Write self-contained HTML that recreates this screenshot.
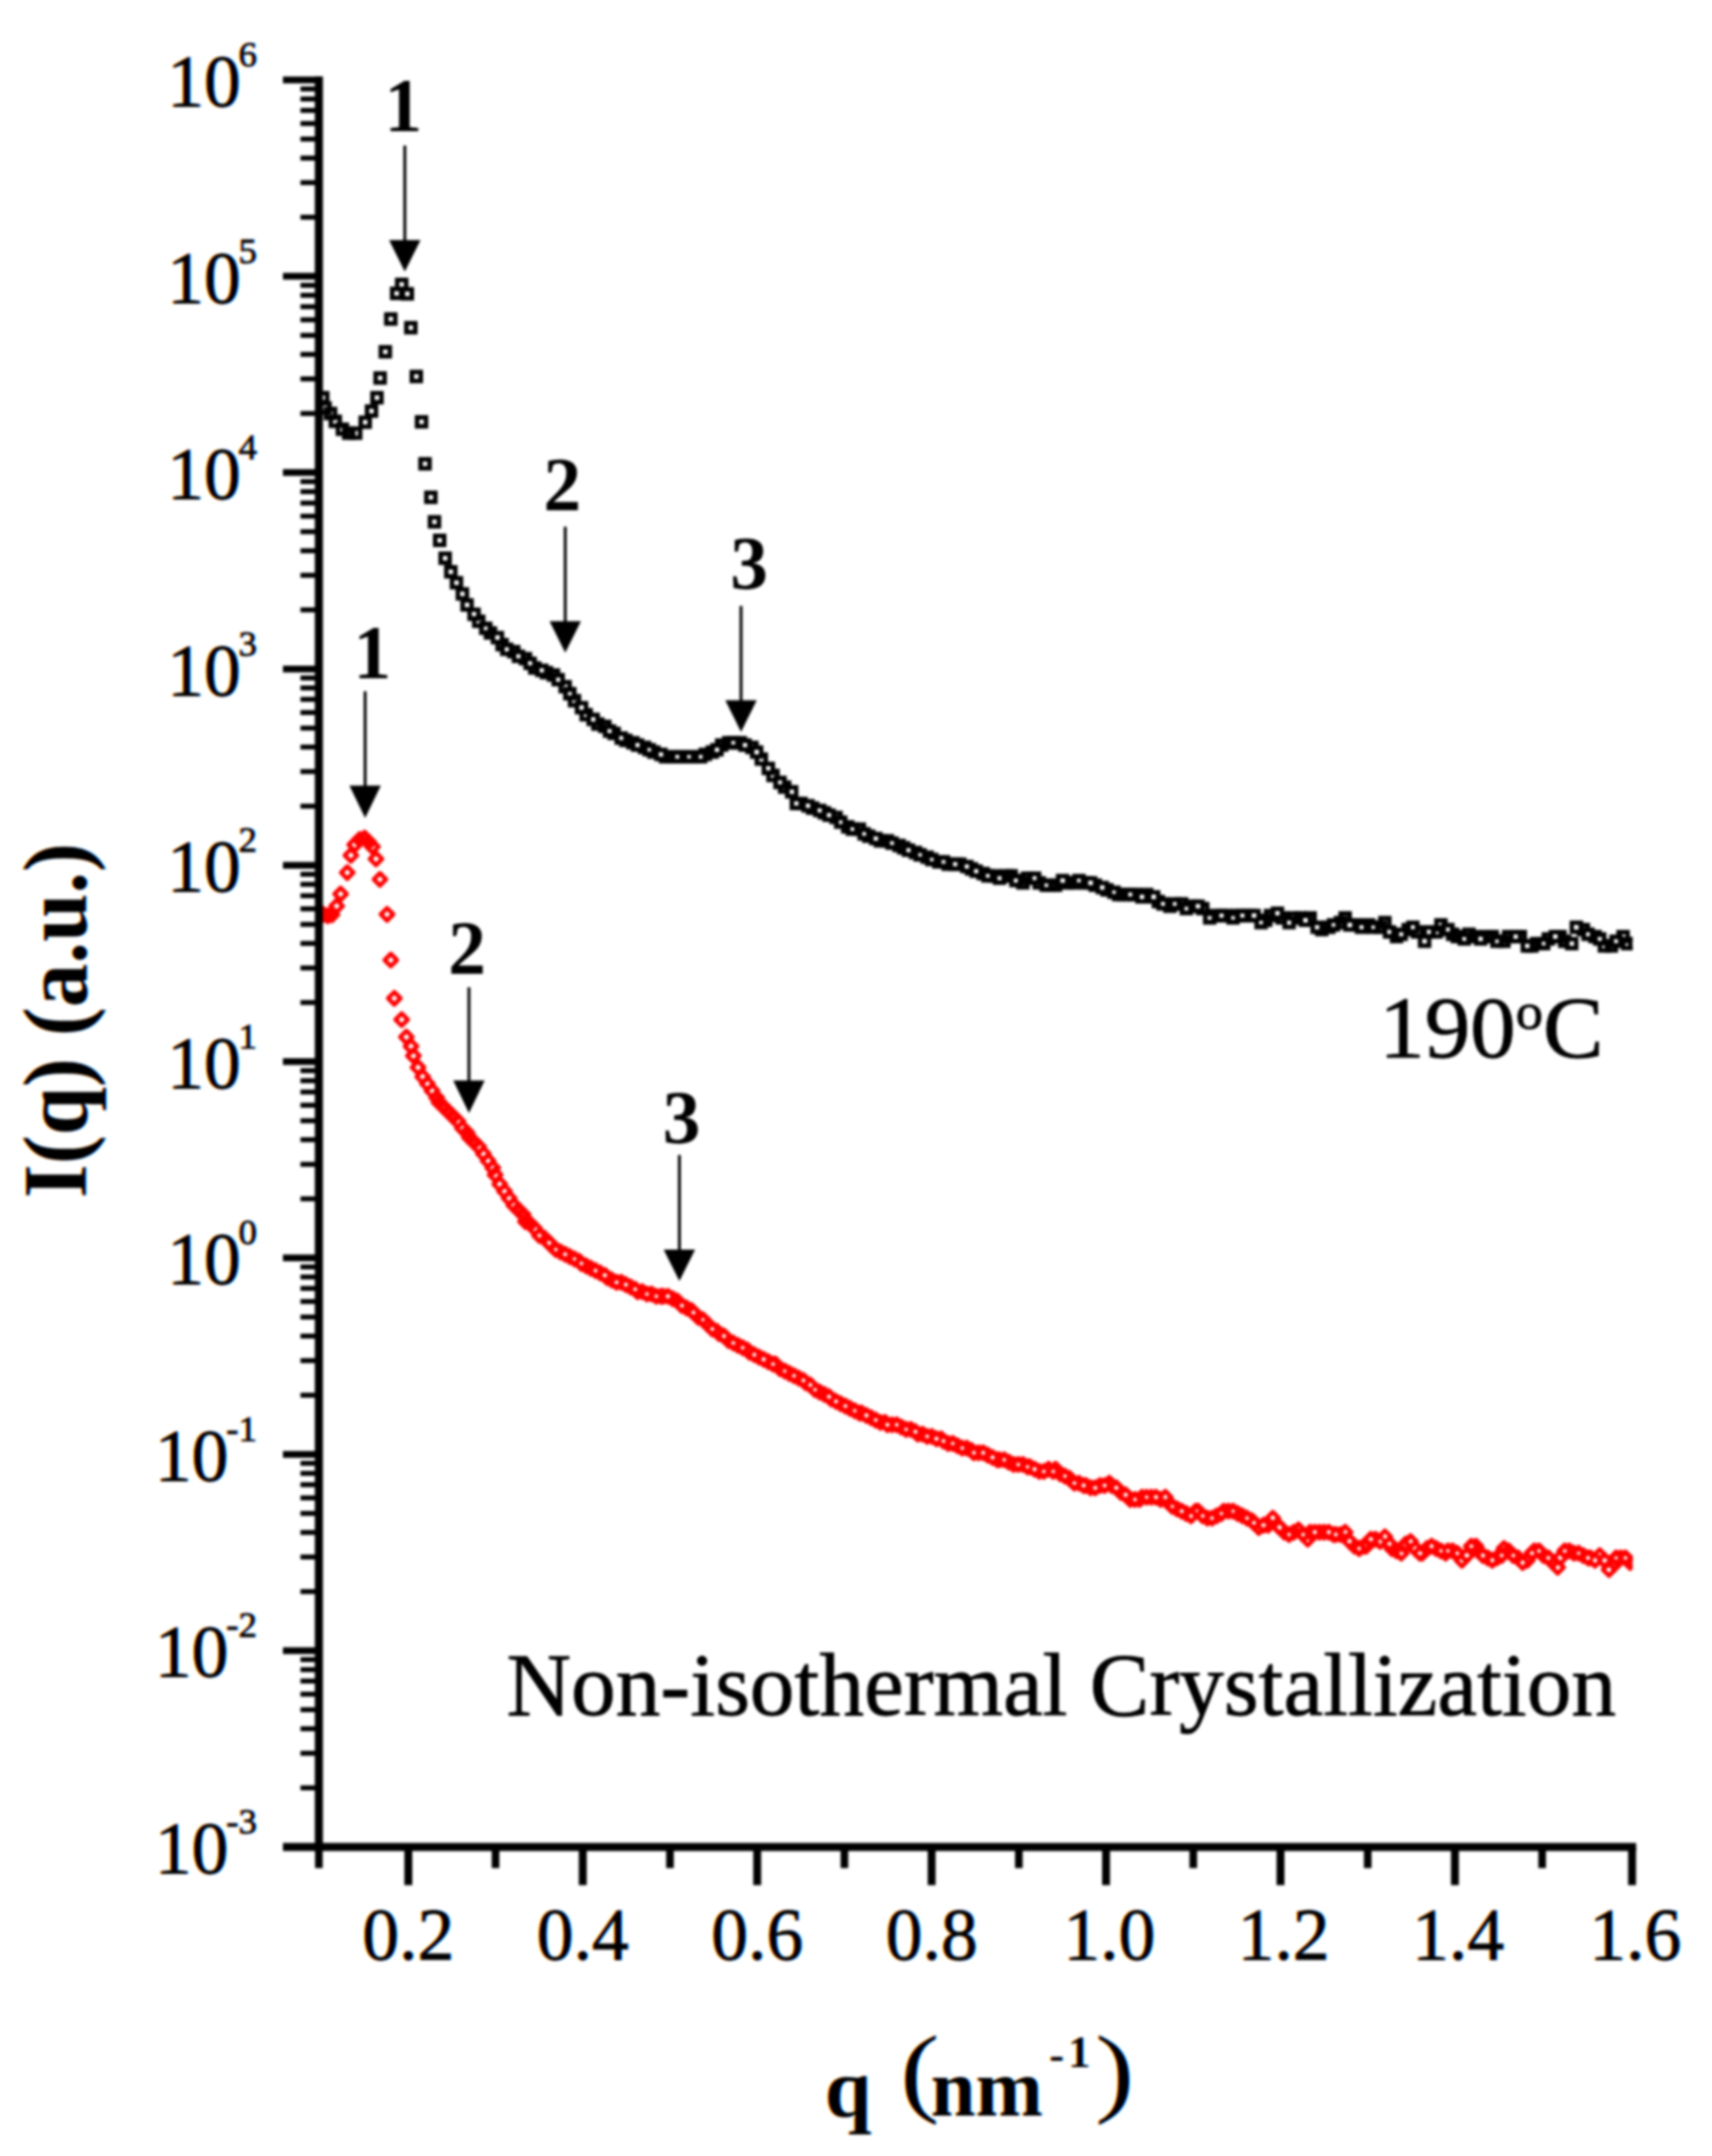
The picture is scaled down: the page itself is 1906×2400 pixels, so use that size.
<!DOCTYPE html>
<html lang="en"><head><meta charset="utf-8"><title>I(q) vs q</title>
<style>html,body{margin:0;padding:0;background:#fff;}body{width:1906px;height:2400px;overflow:hidden;}svg{display:block;filter:blur(1.8px);}</style>
</head><body>
<svg width="1906" height="2400" viewBox="0 0 1906 2400">
<rect x="0" y="0" width="1906" height="2400" fill="#fff"/>
<defs><filter id="lcd" x="-5%" y="-5%" width="110%" height="110%" color-interpolation-filters="sRGB"><feOffset in="SourceGraphic" dx="1.3" result="sR"/><feColorMatrix in="sR" type="matrix" values="0 0 0 -1 1  0 0 0 0 0  0 0 0 0 0  0 0 0 0 1" result="cR"/><feColorMatrix in="SourceGraphic" type="matrix" values="0 0 0 0 0  0 0 0 -1 1  0 0 0 0 0  0 0 0 0 1" result="cG"/><feOffset in="SourceGraphic" dx="-1.3" result="sB"/><feColorMatrix in="sB" type="matrix" values="0 0 0 0 0  0 0 0 0 0  0 0 0 -1 1  0 0 0 0 1" result="cB"/><feComposite in="cR" in2="cG" operator="arithmetic" k1="0" k2="1" k3="1" k4="0" result="RG"/><feComposite in="RG" in2="cB" operator="arithmetic" k1="0" k2="1" k3="1" k4="0"/></filter></defs>
<clipPath id="pc"><rect x="355.0" y="0" width="1462.5" height="2400"/></clipPath>
<g clip-path="url(#pc)">
<g fill="none" stroke="#000" stroke-width="5.0">
<rect x="354.3" y="437.7" width="10.0" height="10.0"/>
<rect x="356.9" y="449.1" width="10.0" height="10.0"/>
<rect x="363.0" y="455.3" width="10.0" height="10.0"/>
<rect x="368.3" y="464.0" width="10.0" height="10.0"/>
<rect x="376.2" y="472.8" width="10.0" height="10.0"/>
<rect x="383.2" y="477.2" width="10.0" height="10.0"/>
<rect x="391.0" y="477.2" width="10.0" height="10.0"/>
<rect x="401.6" y="465.0" width="10.0" height="10.0"/>
<rect x="408.6" y="452.6" width="10.0" height="10.0"/>
<rect x="414.7" y="437.7" width="10.0" height="10.0"/>
<rect x="418.2" y="415.8" width="10.0" height="10.0"/>
<rect x="424.0" y="386.6" width="10.0" height="10.0"/>
<rect x="430.1" y="350.1" width="10.0" height="10.0"/>
<rect x="436.6" y="321.6" width="10.0" height="10.0"/>
<rect x="442.2" y="311.6" width="10.0" height="10.0"/>
<rect x="448.5" y="322.1" width="10.0" height="10.0"/>
<rect x="452.4" y="359.8" width="10.0" height="10.0"/>
<rect x="458.5" y="414.1" width="10.0" height="10.0"/>
<rect x="464.3" y="464.6" width="10.0" height="10.0"/>
<rect x="468.2" y="511.3" width="10.0" height="10.0"/>
<rect x="474.7" y="548.6" width="10.0" height="10.0"/>
<rect x="478.7" y="575.9" width="10.0" height="10.0"/>
<rect x="484.5" y="596.5" width="10.0" height="10.0"/>
<rect x="490.6" y="616.4" width="10.0" height="10.0"/>
<rect x="496.9" y="631.5" width="10.0" height="10.0"/>
<rect x="503.2" y="643.7" width="10.0" height="10.0"/>
<rect x="509.8" y="656.1" width="10.0" height="10.0"/>
<rect x="515.0" y="668.4" width="10.0" height="10.0"/>
<rect x="522.8" y="678.8" width="10.0" height="10.0"/>
<rect x="528.0" y="686.6" width="10.0" height="10.0"/>
<rect x="535.8" y="694.4" width="10.0" height="10.0"/>
<rect x="541.0" y="699.6" width="10.0" height="10.0"/>
<rect x="548.8" y="704.8" width="10.0" height="10.0"/>
<rect x="554.0" y="712.6" width="10.0" height="10.0"/>
<rect x="559.2" y="717.8" width="10.0" height="10.0"/>
<rect x="567.0" y="720.4" width="10.0" height="10.0"/>
<rect x="572.2" y="725.6" width="10.0" height="10.0"/>
<rect x="580.0" y="728.2" width="10.0" height="10.0"/>
<rect x="585.2" y="733.4" width="10.0" height="10.0"/>
<rect x="590.4" y="738.6" width="10.0" height="10.0"/>
<rect x="598.2" y="741.2" width="10.0" height="10.0"/>
<rect x="603.4" y="743.8" width="10.0" height="10.0"/>
<rect x="611.2" y="746.4" width="10.0" height="10.0"/>
<rect x="616.4" y="751.6" width="10.0" height="10.0"/>
<rect x="624.2" y="759.4" width="10.0" height="10.0"/>
<rect x="629.4" y="767.2" width="10.0" height="10.0"/>
<rect x="634.6" y="775.0" width="10.0" height="10.0"/>
<rect x="642.4" y="782.8" width="10.0" height="10.0"/>
<rect x="647.6" y="790.6" width="10.0" height="10.0"/>
<rect x="655.4" y="795.8" width="10.0" height="10.0"/>
<rect x="660.6" y="801.0" width="10.0" height="10.0"/>
<rect x="668.4" y="803.6" width="10.0" height="10.0"/>
<rect x="673.6" y="808.8" width="10.0" height="10.0"/>
<rect x="678.8" y="811.4" width="10.0" height="10.0"/>
<rect x="686.6" y="816.6" width="10.0" height="10.0"/>
<rect x="691.8" y="819.2" width="10.0" height="10.0"/>
<rect x="699.6" y="821.8" width="10.0" height="10.0"/>
<rect x="704.8" y="824.4" width="10.0" height="10.0"/>
<rect x="712.6" y="827.0" width="10.0" height="10.0"/>
<rect x="717.8" y="829.6" width="10.0" height="10.0"/>
<rect x="723.0" y="832.2" width="10.0" height="10.0"/>
<rect x="730.8" y="834.8" width="10.0" height="10.0"/>
<rect x="736.0" y="837.4" width="10.0" height="10.0"/>
<rect x="743.8" y="837.4" width="10.0" height="10.0"/>
<rect x="749.0" y="837.4" width="10.0" height="10.0"/>
<rect x="754.2" y="837.4" width="10.0" height="10.0"/>
<rect x="762.0" y="837.4" width="10.0" height="10.0"/>
<rect x="767.2" y="837.4" width="10.0" height="10.0"/>
<rect x="775.0" y="837.4" width="10.0" height="10.0"/>
<rect x="780.2" y="834.8" width="10.0" height="10.0"/>
<rect x="788.0" y="832.2" width="10.0" height="10.0"/>
<rect x="793.2" y="829.6" width="10.0" height="10.0"/>
<rect x="798.4" y="824.4" width="10.0" height="10.0"/>
<rect x="806.2" y="821.8" width="10.0" height="10.0"/>
<rect x="811.4" y="821.8" width="10.0" height="10.0"/>
<rect x="819.2" y="821.8" width="10.0" height="10.0"/>
<rect x="824.4" y="824.4" width="10.0" height="10.0"/>
<rect x="832.2" y="827.0" width="10.0" height="10.0"/>
<rect x="837.4" y="832.2" width="10.0" height="10.0"/>
<rect x="842.6" y="840.0" width="10.0" height="10.0"/>
<rect x="850.4" y="850.4" width="10.0" height="10.0"/>
<rect x="855.6" y="858.2" width="10.0" height="10.0"/>
<rect x="863.4" y="866.0" width="10.0" height="10.0"/>
<rect x="868.6" y="871.2" width="10.0" height="10.0"/>
<rect x="876.4" y="876.4" width="10.0" height="10.0"/>
<rect x="881.6" y="889.4" width="10.0" height="10.0"/>
<rect x="886.8" y="889.4" width="10.0" height="10.0"/>
<rect x="894.6" y="892.0" width="10.0" height="10.0"/>
<rect x="899.8" y="894.6" width="10.0" height="10.0"/>
<rect x="907.6" y="897.2" width="10.0" height="10.0"/>
<rect x="912.8" y="899.8" width="10.0" height="10.0"/>
<rect x="918.0" y="902.4" width="10.0" height="10.0"/>
<rect x="925.8" y="905.0" width="10.0" height="10.0"/>
<rect x="931.0" y="910.2" width="10.0" height="10.0"/>
<rect x="938.8" y="915.4" width="10.0" height="10.0"/>
<rect x="944.0" y="918.0" width="10.0" height="10.0"/>
<rect x="951.8" y="918.0" width="10.0" height="10.0"/>
<rect x="957.0" y="923.2" width="10.0" height="10.0"/>
<rect x="962.2" y="925.8" width="10.0" height="10.0"/>
<rect x="970.0" y="928.4" width="10.0" height="10.0"/>
<rect x="975.2" y="931.0" width="10.0" height="10.0"/>
<rect x="983.0" y="931.0" width="10.0" height="10.0"/>
<rect x="988.2" y="933.6" width="10.0" height="10.0"/>
<rect x="996.0" y="936.2" width="10.0" height="10.0"/>
<rect x="1001.2" y="938.8" width="10.0" height="10.0"/>
<rect x="1006.4" y="941.4" width="10.0" height="10.0"/>
<rect x="1014.2" y="944.0" width="10.0" height="10.0"/>
<rect x="1019.4" y="946.6" width="10.0" height="10.0"/>
<rect x="1027.2" y="949.2" width="10.0" height="10.0"/>
<rect x="1032.4" y="951.8" width="10.0" height="10.0"/>
<rect x="1040.2" y="954.4" width="10.0" height="10.0"/>
<rect x="1045.4" y="954.4" width="10.0" height="10.0"/>
<rect x="1050.6" y="957.0" width="10.0" height="10.0"/>
<rect x="1058.4" y="957.0" width="10.0" height="10.0"/>
<rect x="1063.6" y="957.0" width="10.0" height="10.0"/>
<rect x="1071.4" y="959.6" width="10.0" height="10.0"/>
<rect x="1076.6" y="962.2" width="10.0" height="10.0"/>
<rect x="1081.8" y="964.8" width="10.0" height="10.0"/>
<rect x="1089.6" y="967.4" width="10.0" height="10.0"/>
<rect x="1094.8" y="970.0" width="10.0" height="10.0"/>
<rect x="1102.6" y="970.0" width="10.0" height="10.0"/>
<rect x="1107.8" y="972.6" width="10.0" height="10.0"/>
<rect x="1115.6" y="970.0" width="10.0" height="10.0"/>
<rect x="1120.8" y="970.0" width="10.0" height="10.0"/>
<rect x="1126.0" y="975.2" width="10.0" height="10.0"/>
<rect x="1133.8" y="977.8" width="10.0" height="10.0"/>
<rect x="1139.0" y="972.6" width="10.0" height="10.0"/>
<rect x="1146.8" y="972.6" width="10.0" height="10.0"/>
<rect x="1152.0" y="977.8" width="10.0" height="10.0"/>
<rect x="1159.8" y="980.4" width="10.0" height="10.0"/>
<rect x="1165.0" y="980.4" width="10.0" height="10.0"/>
<rect x="1170.2" y="980.4" width="10.0" height="10.0"/>
<rect x="1178.0" y="975.2" width="10.0" height="10.0"/>
<rect x="1183.2" y="977.8" width="10.0" height="10.0"/>
<rect x="1191.0" y="977.8" width="10.0" height="10.0"/>
<rect x="1196.2" y="975.2" width="10.0" height="10.0"/>
<rect x="1204.0" y="977.8" width="10.0" height="10.0"/>
<rect x="1209.2" y="977.8" width="10.0" height="10.0"/>
<rect x="1214.4" y="980.4" width="10.0" height="10.0"/>
<rect x="1222.2" y="983.0" width="10.0" height="10.0"/>
<rect x="1227.4" y="985.6" width="10.0" height="10.0"/>
<rect x="1235.2" y="988.2" width="10.0" height="10.0"/>
<rect x="1240.4" y="990.8" width="10.0" height="10.0"/>
<rect x="1245.6" y="990.8" width="10.0" height="10.0"/>
<rect x="1253.4" y="990.8" width="10.0" height="10.0"/>
<rect x="1258.6" y="990.8" width="10.0" height="10.0"/>
<rect x="1266.4" y="993.4" width="10.0" height="10.0"/>
<rect x="1271.6" y="990.8" width="10.0" height="10.0"/>
<rect x="1279.4" y="993.4" width="10.0" height="10.0"/>
<rect x="1284.6" y="998.6" width="10.0" height="10.0"/>
<rect x="1289.8" y="1001.2" width="10.0" height="10.0"/>
<rect x="1297.6" y="1003.8" width="10.0" height="10.0"/>
<rect x="1302.8" y="1001.2" width="10.0" height="10.0"/>
<rect x="1310.6" y="1001.2" width="10.0" height="10.0"/>
<rect x="1315.8" y="1006.4" width="10.0" height="10.0"/>
<rect x="1323.6" y="1003.8" width="10.0" height="10.0"/>
<rect x="1328.8" y="1003.8" width="10.0" height="10.0"/>
<rect x="1334.0" y="1006.4" width="10.0" height="10.0"/>
<rect x="1341.8" y="1016.8" width="10.0" height="10.0"/>
<rect x="1347.0" y="1014.2" width="10.0" height="10.0"/>
<rect x="1354.8" y="1014.2" width="10.0" height="10.0"/>
<rect x="1360.0" y="1014.2" width="10.0" height="10.0"/>
<rect x="1367.8" y="1016.8" width="10.0" height="10.0"/>
<rect x="1373.0" y="1014.2" width="10.0" height="10.0"/>
<rect x="1378.2" y="1014.2" width="10.0" height="10.0"/>
<rect x="1386.0" y="1014.2" width="10.0" height="10.0"/>
<rect x="1391.2" y="1014.2" width="10.0" height="10.0"/>
<rect x="1399.0" y="1022.0" width="10.0" height="10.0"/>
<rect x="1404.2" y="1019.4" width="10.0" height="10.0"/>
<rect x="1409.4" y="1014.2" width="10.0" height="10.0"/>
<rect x="1417.2" y="1011.6" width="10.0" height="10.0"/>
<rect x="1422.4" y="1016.8" width="10.0" height="10.0"/>
<rect x="1430.2" y="1022.0" width="10.0" height="10.0"/>
<rect x="1435.4" y="1016.8" width="10.0" height="10.0"/>
<rect x="1443.2" y="1016.8" width="10.0" height="10.0"/>
<rect x="1448.4" y="1019.4" width="10.0" height="10.0"/>
<rect x="1453.6" y="1016.8" width="10.0" height="10.0"/>
<rect x="1461.4" y="1027.2" width="10.0" height="10.0"/>
<rect x="1466.6" y="1029.8" width="10.0" height="10.0"/>
<rect x="1474.4" y="1027.2" width="10.0" height="10.0"/>
<rect x="1479.6" y="1024.6" width="10.0" height="10.0"/>
<rect x="1487.4" y="1022.0" width="10.0" height="10.0"/>
<rect x="1492.6" y="1016.8" width="10.0" height="10.0"/>
<rect x="1497.8" y="1024.6" width="10.0" height="10.0"/>
<rect x="1505.6" y="1024.6" width="10.0" height="10.0"/>
<rect x="1510.8" y="1027.2" width="10.0" height="10.0"/>
<rect x="1518.6" y="1024.6" width="10.0" height="10.0"/>
<rect x="1523.8" y="1027.2" width="10.0" height="10.0"/>
<rect x="1531.6" y="1027.2" width="10.0" height="10.0"/>
<rect x="1536.8" y="1022.0" width="10.0" height="10.0"/>
<rect x="1542.0" y="1032.4" width="10.0" height="10.0"/>
<rect x="1549.8" y="1037.6" width="10.0" height="10.0"/>
<rect x="1555.0" y="1035.0" width="10.0" height="10.0"/>
<rect x="1562.8" y="1029.8" width="10.0" height="10.0"/>
<rect x="1568.0" y="1027.2" width="10.0" height="10.0"/>
<rect x="1573.2" y="1032.4" width="10.0" height="10.0"/>
<rect x="1581.0" y="1042.8" width="10.0" height="10.0"/>
<rect x="1586.2" y="1032.4" width="10.0" height="10.0"/>
<rect x="1594.0" y="1032.4" width="10.0" height="10.0"/>
<rect x="1599.2" y="1024.6" width="10.0" height="10.0"/>
<rect x="1607.0" y="1029.8" width="10.0" height="10.0"/>
<rect x="1612.2" y="1035.0" width="10.0" height="10.0"/>
<rect x="1617.4" y="1037.6" width="10.0" height="10.0"/>
<rect x="1625.2" y="1040.2" width="10.0" height="10.0"/>
<rect x="1630.4" y="1035.0" width="10.0" height="10.0"/>
<rect x="1638.2" y="1037.6" width="10.0" height="10.0"/>
<rect x="1643.4" y="1040.2" width="10.0" height="10.0"/>
<rect x="1651.2" y="1037.6" width="10.0" height="10.0"/>
<rect x="1656.4" y="1037.6" width="10.0" height="10.0"/>
<rect x="1661.6" y="1042.8" width="10.0" height="10.0"/>
<rect x="1669.4" y="1042.8" width="10.0" height="10.0"/>
<rect x="1674.6" y="1037.6" width="10.0" height="10.0"/>
<rect x="1682.4" y="1037.6" width="10.0" height="10.0"/>
<rect x="1687.6" y="1037.6" width="10.0" height="10.0"/>
<rect x="1695.4" y="1048.0" width="10.0" height="10.0"/>
<rect x="1700.6" y="1048.0" width="10.0" height="10.0"/>
<rect x="1705.8" y="1045.4" width="10.0" height="10.0"/>
<rect x="1713.6" y="1045.4" width="10.0" height="10.0"/>
<rect x="1718.8" y="1040.2" width="10.0" height="10.0"/>
<rect x="1726.6" y="1037.6" width="10.0" height="10.0"/>
<rect x="1731.8" y="1037.6" width="10.0" height="10.0"/>
<rect x="1737.0" y="1042.8" width="10.0" height="10.0"/>
<rect x="1744.8" y="1045.4" width="10.0" height="10.0"/>
<rect x="1750.0" y="1027.2" width="10.0" height="10.0"/>
<rect x="1757.8" y="1029.8" width="10.0" height="10.0"/>
<rect x="1763.0" y="1035.0" width="10.0" height="10.0"/>
<rect x="1770.8" y="1037.6" width="10.0" height="10.0"/>
<rect x="1776.0" y="1040.2" width="10.0" height="10.0"/>
<rect x="1781.2" y="1048.0" width="10.0" height="10.0"/>
<rect x="1789.0" y="1048.0" width="10.0" height="10.0"/>
<rect x="1794.2" y="1042.8" width="10.0" height="10.0"/>
<rect x="1802.0" y="1037.6" width="10.0" height="10.0"/>
<rect x="1807.2" y="1045.4" width="10.0" height="10.0"/>
<rect x="1815.0" y="1045.4" width="10.0" height="10.0"/>
</g>
<g fill="#fff">
<rect x="499.9" y="634.5" width="4.0" height="4.0"/>
<rect x="506.3" y="646.8" width="3.8" height="3.8"/>
<rect x="518.0" y="671.4" width="3.9" height="3.9"/>
<rect x="525.7" y="681.7" width="4.2" height="4.2"/>
<rect x="538.9" y="697.5" width="3.9" height="3.9"/>
<rect x="551.4" y="707.4" width="4.8" height="4.8"/>
<rect x="562.0" y="720.6" width="4.4" height="4.4"/>
<rect x="574.9" y="728.3" width="4.5" height="4.5"/>
<rect x="587.9" y="736.1" width="4.5" height="4.5"/>
<rect x="600.9" y="743.9" width="4.6" height="4.6"/>
<rect x="619.2" y="754.4" width="4.4" height="4.4"/>
<rect x="632.5" y="770.3" width="3.8" height="3.8"/>
<rect x="645.0" y="785.4" width="4.7" height="4.7"/>
<rect x="658.1" y="798.5" width="4.7" height="4.7"/>
<rect x="676.4" y="811.6" width="4.4" height="4.4"/>
<rect x="689.4" y="819.4" width="4.4" height="4.4"/>
<rect x="707.5" y="827.1" width="4.6" height="4.6"/>
<rect x="720.9" y="832.7" width="3.8" height="3.8"/>
<rect x="733.5" y="837.5" width="4.7" height="4.7"/>
<rect x="752.0" y="840.4" width="4.1" height="4.1"/>
<rect x="765.1" y="840.5" width="3.8" height="3.8"/>
<rect x="778.0" y="840.4" width="4.1" height="4.1"/>
<rect x="795.9" y="832.3" width="4.7" height="4.7"/>
<rect x="814.4" y="824.8" width="4.0" height="4.0"/>
<rect x="827.1" y="827.1" width="4.7" height="4.7"/>
<rect x="839.9" y="834.7" width="5.0" height="5.0"/>
<rect x="853.2" y="853.2" width="4.4" height="4.4"/>
<rect x="866.3" y="868.9" width="4.2" height="4.2"/>
<rect x="879.2" y="879.2" width="4.3" height="4.3"/>
<rect x="884.3" y="892.1" width="4.6" height="4.6"/>
<rect x="897.2" y="894.6" width="4.7" height="4.7"/>
<rect x="910.3" y="899.9" width="4.5" height="4.5"/>
<rect x="920.7" y="905.1" width="4.6" height="4.6"/>
<rect x="934.1" y="913.3" width="3.8" height="3.8"/>
<rect x="947.0" y="921.0" width="3.9" height="3.9"/>
<rect x="960.0" y="926.2" width="4.1" height="4.1"/>
<rect x="972.7" y="931.1" width="4.7" height="4.7"/>
<rect x="991.1" y="936.5" width="4.1" height="4.1"/>
<rect x="1009.2" y="944.2" width="4.5" height="4.5"/>
<rect x="1022.5" y="949.7" width="3.8" height="3.8"/>
<rect x="1035.5" y="954.9" width="3.8" height="3.8"/>
<rect x="1048.4" y="957.4" width="4.1" height="4.1"/>
<rect x="1061.1" y="959.7" width="4.6" height="4.6"/>
<rect x="1074.1" y="962.3" width="4.6" height="4.6"/>
<rect x="1084.5" y="967.5" width="4.6" height="4.6"/>
<rect x="1097.7" y="972.9" width="4.1" height="4.1"/>
<rect x="1110.6" y="975.4" width="4.4" height="4.4"/>
<rect x="1128.8" y="978.0" width="4.3" height="4.3"/>
<rect x="1149.6" y="975.4" width="4.3" height="4.3"/>
<rect x="1162.9" y="983.5" width="3.9" height="3.9"/>
<rect x="1180.6" y="977.8" width="4.9" height="4.9"/>
<rect x="1199.2" y="978.2" width="4.0" height="4.0"/>
<rect x="1211.7" y="980.3" width="5.0" height="5.0"/>
<rect x="1224.7" y="985.5" width="4.9" height="4.9"/>
<rect x="1238.3" y="991.3" width="3.8" height="3.8"/>
<rect x="1256.2" y="993.6" width="4.3" height="4.3"/>
<rect x="1269.0" y="996.0" width="4.8" height="4.8"/>
<rect x="1281.9" y="995.9" width="5.0" height="5.0"/>
<rect x="1292.6" y="1004.0" width="4.3" height="4.3"/>
<rect x="1305.8" y="1004.2" width="4.1" height="4.1"/>
<rect x="1318.8" y="1009.4" width="4.0" height="4.0"/>
<rect x="1331.3" y="1006.3" width="4.9" height="4.9"/>
<rect x="1344.8" y="1019.8" width="4.0" height="4.0"/>
<rect x="1357.6" y="1017.0" width="4.5" height="4.5"/>
<rect x="1370.8" y="1019.8" width="3.9" height="3.9"/>
<rect x="1381.0" y="1017.0" width="4.4" height="4.4"/>
<rect x="1393.7" y="1016.7" width="4.9" height="4.9"/>
<rect x="1402.0" y="1025.0" width="3.9" height="3.9"/>
<rect x="1419.8" y="1014.2" width="4.8" height="4.8"/>
<rect x="1433.0" y="1024.8" width="4.4" height="4.4"/>
<rect x="1451.0" y="1022.0" width="4.9" height="4.9"/>
<rect x="1464.1" y="1029.9" width="4.6" height="4.6"/>
<rect x="1482.6" y="1027.6" width="4.0" height="4.0"/>
<rect x="1500.4" y="1027.2" width="4.9" height="4.9"/>
<rect x="1513.6" y="1030.0" width="4.4" height="4.4"/>
<rect x="1526.9" y="1030.3" width="3.8" height="3.8"/>
<rect x="1545.1" y="1035.5" width="3.8" height="3.8"/>
<rect x="1557.8" y="1037.8" width="4.4" height="4.4"/>
<rect x="1570.8" y="1030.0" width="4.3" height="4.3"/>
<rect x="1583.9" y="1045.7" width="4.1" height="4.1"/>
<rect x="1589.2" y="1035.4" width="3.9" height="3.9"/>
<rect x="1609.9" y="1032.7" width="4.2" height="4.2"/>
<rect x="1628.1" y="1043.1" width="4.1" height="4.1"/>
<rect x="1646.0" y="1042.8" width="4.8" height="4.8"/>
<rect x="1664.7" y="1045.9" width="3.8" height="3.8"/>
<rect x="1685.1" y="1040.3" width="4.7" height="4.7"/>
<rect x="1698.0" y="1050.6" width="4.8" height="4.8"/>
<rect x="1716.6" y="1048.4" width="3.9" height="3.9"/>
<rect x="1729.1" y="1040.1" width="4.9" height="4.9"/>
<rect x="1747.5" y="1048.1" width="4.6" height="4.6"/>
<rect x="1752.6" y="1029.8" width="4.9" height="4.9"/>
<rect x="1765.9" y="1037.9" width="4.1" height="4.1"/>
<rect x="1778.9" y="1043.1" width="4.2" height="4.2"/>
<rect x="1797.1" y="1045.7" width="4.2" height="4.2"/>
<rect x="1817.5" y="1047.9" width="5.0" height="5.0"/>
</g>
<g fill="none" stroke="#f00" stroke-width="4.8" stroke-linejoin="round">
<path d="M359.9 1010.9L366.8 1017.8L359.9 1024.7L353.0 1017.8Z"/>
<path d="M364.8 1012.6L371.7 1019.5L364.8 1026.4L357.9 1019.5Z"/>
<path d="M369.5 1011.4L376.4 1018.3L369.5 1025.2L362.6 1018.3Z"/>
<path d="M374.8 1001.7L381.7 1008.6L374.8 1015.5L367.9 1008.6Z"/>
<path d="M379.2 988.2L386.1 995.1L379.2 1002.0L372.3 995.1Z"/>
<path d="M386.6 964.5L393.5 971.4L386.6 978.3L379.7 971.4Z"/>
<path d="M390.6 945.2L397.5 952.1L390.6 959.0L383.7 952.1Z"/>
<path d="M394.9 933.4L401.8 940.3L394.9 947.2L388.0 940.3Z"/>
<path d="M400.4 927.6L407.3 934.5L400.4 941.4L393.5 934.5Z"/>
<path d="M405.9 926.0L412.8 932.9L405.9 939.8L399.0 932.9Z"/>
<path d="M410.6 930.6L417.5 937.5L410.6 944.4L403.7 937.5Z"/>
<path d="M414.6 935.6L421.5 942.5L414.6 949.4L407.7 942.5Z"/>
<path d="M418.6 949.2L425.5 956.1L418.6 963.0L411.7 956.1Z"/>
<path d="M423.0 972.0L429.9 978.9L423.0 985.8L416.1 978.9Z"/>
<path d="M430.9 1010.9L437.8 1017.8L430.9 1024.7L424.0 1017.8Z"/>
<path d="M435.1 1061.8L442.0 1068.7L435.1 1075.6L428.2 1068.7Z"/>
<path d="M439.0 1104.4L445.9 1111.3L439.0 1118.2L432.1 1111.3Z"/>
<path d="M447.2 1128.1L454.1 1135.0L447.2 1141.9L440.3 1135.0Z"/>
<path d="M452.4 1147.5L459.3 1154.4L452.4 1161.3L445.5 1154.4Z"/>
<path d="M457.6 1157.9L464.5 1164.8L457.6 1171.7L450.7 1164.8Z"/>
<path d="M460.2 1168.3L467.1 1175.2L460.2 1182.1L453.3 1175.2Z"/>
<path d="M465.4 1181.3L472.3 1188.2L465.4 1195.1L458.5 1188.2Z"/>
<path d="M470.6 1191.7L477.5 1198.6L470.6 1205.5L463.7 1198.6Z"/>
<path d="M475.8 1199.5L482.7 1206.4L475.8 1213.3L468.9 1206.4Z"/>
<path d="M481.0 1207.3L487.9 1214.2L481.0 1221.1L474.1 1214.2Z"/>
<path d="M486.2 1215.1L493.1 1222.0L486.2 1228.9L479.3 1222.0Z"/>
<path d="M488.8 1220.3L495.7 1227.2L488.8 1234.1L481.9 1227.2Z"/>
<path d="M494.0 1225.5L500.9 1232.4L494.0 1239.3L487.1 1232.4Z"/>
<path d="M499.2 1230.7L506.1 1237.6L499.2 1244.5L492.3 1237.6Z"/>
<path d="M504.4 1235.9L511.3 1242.8L504.4 1249.7L497.5 1242.8Z"/>
<path d="M509.6 1241.1L516.5 1248.0L509.6 1254.9L502.7 1248.0Z"/>
<path d="M514.8 1248.9L521.7 1255.8L514.8 1262.7L507.9 1255.8Z"/>
<path d="M520.0 1254.1L526.9 1261.0L520.0 1267.9L513.1 1261.0Z"/>
<path d="M522.6 1259.3L529.5 1266.2L522.6 1273.1L515.7 1266.2Z"/>
<path d="M527.8 1264.5L534.7 1271.4L527.8 1278.3L520.9 1271.4Z"/>
<path d="M533.0 1269.7L539.9 1276.6L533.0 1283.5L526.1 1276.6Z"/>
<path d="M538.2 1277.5L545.1 1284.4L538.2 1291.3L531.3 1284.4Z"/>
<path d="M543.4 1285.3L550.3 1292.2L543.4 1299.1L536.5 1292.2Z"/>
<path d="M548.6 1293.1L555.5 1300.0L548.6 1306.9L541.7 1300.0Z"/>
<path d="M551.2 1300.9L558.1 1307.8L551.2 1314.7L544.3 1307.8Z"/>
<path d="M556.4 1311.3L563.3 1318.2L556.4 1325.1L549.5 1318.2Z"/>
<path d="M561.6 1319.1L568.5 1326.0L561.6 1332.9L554.7 1326.0Z"/>
<path d="M566.8 1326.9L573.7 1333.8L566.8 1340.7L559.9 1333.8Z"/>
<path d="M572.0 1334.7L578.9 1341.6L572.0 1348.5L565.1 1341.6Z"/>
<path d="M577.2 1339.9L584.1 1346.8L577.2 1353.7L570.3 1346.8Z"/>
<path d="M582.4 1345.1L589.3 1352.0L582.4 1358.9L575.5 1352.0Z"/>
<path d="M585.0 1352.9L591.9 1359.8L585.0 1366.7L578.1 1359.8Z"/>
<path d="M590.2 1355.5L597.1 1362.4L590.2 1369.3L583.3 1362.4Z"/>
<path d="M595.4 1360.7L602.3 1367.6L595.4 1374.5L588.5 1367.6Z"/>
<path d="M600.6 1368.5L607.5 1375.4L600.6 1382.3L593.7 1375.4Z"/>
<path d="M605.8 1371.1L612.7 1378.0L605.8 1384.9L598.9 1378.0Z"/>
<path d="M611.0 1376.3L617.9 1383.2L611.0 1390.1L604.1 1383.2Z"/>
<path d="M613.6 1378.9L620.5 1385.8L613.6 1392.7L606.7 1385.8Z"/>
<path d="M618.8 1384.1L625.7 1391.0L618.8 1397.9L611.9 1391.0Z"/>
<path d="M624.0 1386.7L630.9 1393.6L624.0 1400.5L617.1 1393.6Z"/>
<path d="M629.2 1389.3L636.1 1396.2L629.2 1403.1L622.3 1396.2Z"/>
<path d="M634.4 1391.9L641.3 1398.8L634.4 1405.7L627.5 1398.8Z"/>
<path d="M639.6 1394.5L646.5 1401.4L639.6 1408.3L632.7 1401.4Z"/>
<path d="M644.8 1397.1L651.7 1404.0L644.8 1410.9L637.9 1404.0Z"/>
<path d="M647.4 1399.7L654.3 1406.6L647.4 1413.5L640.5 1406.6Z"/>
<path d="M652.6 1402.3L659.5 1409.2L652.6 1416.1L645.7 1409.2Z"/>
<path d="M657.8 1404.9L664.7 1411.8L657.8 1418.7L650.9 1411.8Z"/>
<path d="M663.0 1407.5L669.9 1414.4L663.0 1421.3L656.1 1414.4Z"/>
<path d="M668.2 1410.1L675.1 1417.0L668.2 1423.9L661.3 1417.0Z"/>
<path d="M673.4 1412.7L680.3 1419.6L673.4 1426.5L666.5 1419.6Z"/>
<path d="M676.0 1415.3L682.9 1422.2L676.0 1429.1L669.1 1422.2Z"/>
<path d="M681.2 1417.9L688.1 1424.8L681.2 1431.7L674.3 1424.8Z"/>
<path d="M686.4 1420.5L693.3 1427.4L686.4 1434.3L679.5 1427.4Z"/>
<path d="M691.6 1420.5L698.5 1427.4L691.6 1434.3L684.7 1427.4Z"/>
<path d="M696.8 1423.1L703.7 1430.0L696.8 1436.9L689.9 1430.0Z"/>
<path d="M702.0 1425.7L708.9 1432.6L702.0 1439.5L695.1 1432.6Z"/>
<path d="M707.2 1428.3L714.1 1435.2L707.2 1442.1L700.3 1435.2Z"/>
<path d="M709.8 1430.9L716.7 1437.8L709.8 1444.7L702.9 1437.8Z"/>
<path d="M715.0 1430.9L721.9 1437.8L715.0 1444.7L708.1 1437.8Z"/>
<path d="M720.2 1433.5L727.1 1440.4L720.2 1447.3L713.3 1440.4Z"/>
<path d="M725.4 1433.5L732.3 1440.4L725.4 1447.3L718.5 1440.4Z"/>
<path d="M730.6 1436.1L737.5 1443.0L730.6 1449.9L723.7 1443.0Z"/>
<path d="M735.8 1436.1L742.7 1443.0L735.8 1449.9L728.9 1443.0Z"/>
<path d="M738.4 1436.1L745.3 1443.0L738.4 1449.9L731.5 1443.0Z"/>
<path d="M743.6 1436.1L750.5 1443.0L743.6 1449.9L736.7 1443.0Z"/>
<path d="M748.8 1438.7L755.7 1445.6L748.8 1452.5L741.9 1445.6Z"/>
<path d="M754.0 1441.3L760.9 1448.2L754.0 1455.1L747.1 1448.2Z"/>
<path d="M759.2 1446.5L766.1 1453.4L759.2 1460.3L752.3 1453.4Z"/>
<path d="M764.4 1449.1L771.3 1456.0L764.4 1462.9L757.5 1456.0Z"/>
<path d="M769.6 1451.7L776.5 1458.6L769.6 1465.5L762.7 1458.6Z"/>
<path d="M772.2 1454.3L779.1 1461.2L772.2 1468.1L765.3 1461.2Z"/>
<path d="M777.4 1459.5L784.3 1466.4L777.4 1473.3L770.5 1466.4Z"/>
<path d="M782.6 1462.1L789.5 1469.0L782.6 1475.9L775.7 1469.0Z"/>
<path d="M787.8 1467.3L794.7 1474.2L787.8 1481.1L780.9 1474.2Z"/>
<path d="M793.0 1472.5L799.9 1479.4L793.0 1486.3L786.1 1479.4Z"/>
<path d="M798.2 1475.1L805.1 1482.0L798.2 1488.9L791.3 1482.0Z"/>
<path d="M800.8 1477.7L807.7 1484.6L800.8 1491.5L793.9 1484.6Z"/>
<path d="M806.0 1480.3L812.9 1487.2L806.0 1494.1L799.1 1487.2Z"/>
<path d="M811.2 1485.5L818.1 1492.4L811.2 1499.3L804.3 1492.4Z"/>
<path d="M816.4 1488.1L823.3 1495.0L816.4 1501.9L809.5 1495.0Z"/>
<path d="M821.6 1490.7L828.5 1497.6L821.6 1504.5L814.7 1497.6Z"/>
<path d="M826.8 1493.3L833.7 1500.2L826.8 1507.1L819.9 1500.2Z"/>
<path d="M832.0 1495.9L838.9 1502.8L832.0 1509.7L825.1 1502.8Z"/>
<path d="M834.6 1498.5L841.5 1505.4L834.6 1512.3L827.7 1505.4Z"/>
<path d="M839.8 1501.1L846.7 1508.0L839.8 1514.9L832.9 1508.0Z"/>
<path d="M845.0 1503.7L851.9 1510.6L845.0 1517.5L838.1 1510.6Z"/>
<path d="M850.2 1506.3L857.1 1513.2L850.2 1520.1L843.3 1513.2Z"/>
<path d="M855.4 1508.9L862.3 1515.8L855.4 1522.7L848.5 1515.8Z"/>
<path d="M860.6 1511.5L867.5 1518.4L860.6 1525.3L853.7 1518.4Z"/>
<path d="M863.2 1511.5L870.1 1518.4L863.2 1525.3L856.3 1518.4Z"/>
<path d="M868.4 1516.7L875.3 1523.6L868.4 1530.5L861.5 1523.6Z"/>
<path d="M873.6 1519.3L880.5 1526.2L873.6 1533.1L866.7 1526.2Z"/>
<path d="M878.8 1521.9L885.7 1528.8L878.8 1535.7L871.9 1528.8Z"/>
<path d="M884.0 1524.5L890.9 1531.4L884.0 1538.3L877.1 1531.4Z"/>
<path d="M889.2 1527.1L896.1 1534.0L889.2 1540.9L882.3 1534.0Z"/>
<path d="M894.4 1529.7L901.3 1536.6L894.4 1543.5L887.5 1536.6Z"/>
<path d="M897.0 1532.3L903.9 1539.2L897.0 1546.1L890.1 1539.2Z"/>
<path d="M902.2 1534.9L909.1 1541.8L902.2 1548.7L895.3 1541.8Z"/>
<path d="M907.4 1540.1L914.3 1547.0L907.4 1553.9L900.5 1547.0Z"/>
<path d="M912.6 1542.7L919.5 1549.6L912.6 1556.5L905.7 1549.6Z"/>
<path d="M917.8 1545.3L924.7 1552.2L917.8 1559.1L910.9 1552.2Z"/>
<path d="M923.0 1547.9L929.9 1554.8L923.0 1561.7L916.1 1554.8Z"/>
<path d="M925.6 1550.5L932.5 1557.4L925.6 1564.3L918.7 1557.4Z"/>
<path d="M930.8 1553.1L937.7 1560.0L930.8 1566.9L923.9 1560.0Z"/>
<path d="M936.0 1555.7L942.9 1562.6L936.0 1569.5L929.1 1562.6Z"/>
<path d="M941.2 1558.3L948.1 1565.2L941.2 1572.1L934.3 1565.2Z"/>
<path d="M946.4 1560.9L953.3 1567.8L946.4 1574.7L939.5 1567.8Z"/>
<path d="M951.6 1563.5L958.5 1570.4L951.6 1577.3L944.7 1570.4Z"/>
<path d="M956.8 1566.1L963.7 1573.0L956.8 1579.9L949.9 1573.0Z"/>
<path d="M959.4 1566.1L966.3 1573.0L959.4 1579.9L952.5 1573.0Z"/>
<path d="M964.6 1568.7L971.5 1575.6L964.6 1582.5L957.7 1575.6Z"/>
<path d="M969.8 1571.3L976.7 1578.2L969.8 1585.1L962.9 1578.2Z"/>
<path d="M975.0 1573.9L981.9 1580.8L975.0 1587.7L968.1 1580.8Z"/>
<path d="M980.2 1576.5L987.1 1583.4L980.2 1590.3L973.3 1583.4Z"/>
<path d="M985.4 1576.5L992.3 1583.4L985.4 1590.3L978.5 1583.4Z"/>
<path d="M988.0 1579.1L994.9 1586.0L988.0 1592.9L981.1 1586.0Z"/>
<path d="M993.2 1579.1L1000.1 1586.0L993.2 1592.9L986.3 1586.0Z"/>
<path d="M998.4 1579.1L1005.3 1586.0L998.4 1592.9L991.5 1586.0Z"/>
<path d="M1003.6 1581.7L1010.5 1588.6L1003.6 1595.5L996.7 1588.6Z"/>
<path d="M1008.8 1584.3L1015.7 1591.2L1008.8 1598.1L1001.9 1591.2Z"/>
<path d="M1014.0 1584.3L1020.9 1591.2L1014.0 1598.1L1007.1 1591.2Z"/>
<path d="M1019.2 1586.9L1026.1 1593.8L1019.2 1600.7L1012.3 1593.8Z"/>
<path d="M1021.8 1589.5L1028.7 1596.4L1021.8 1603.3L1014.9 1596.4Z"/>
<path d="M1027.0 1589.5L1033.9 1596.4L1027.0 1603.3L1020.1 1596.4Z"/>
<path d="M1032.2 1592.1L1039.1 1599.0L1032.2 1605.9L1025.3 1599.0Z"/>
<path d="M1037.4 1592.1L1044.3 1599.0L1037.4 1605.9L1030.5 1599.0Z"/>
<path d="M1042.6 1594.7L1049.5 1601.6L1042.6 1608.5L1035.7 1601.6Z"/>
<path d="M1047.8 1594.7L1054.7 1601.6L1047.8 1608.5L1040.9 1601.6Z"/>
<path d="M1050.4 1597.3L1057.3 1604.2L1050.4 1611.1L1043.5 1604.2Z"/>
<path d="M1055.6 1599.9L1062.5 1606.8L1055.6 1613.7L1048.7 1606.8Z"/>
<path d="M1060.8 1599.9L1067.7 1606.8L1060.8 1613.7L1053.9 1606.8Z"/>
<path d="M1066.0 1602.5L1072.9 1609.4L1066.0 1616.3L1059.1 1609.4Z"/>
<path d="M1071.2 1605.1L1078.1 1612.0L1071.2 1618.9L1064.3 1612.0Z"/>
<path d="M1076.4 1605.1L1083.3 1612.0L1076.4 1618.9L1069.5 1612.0Z"/>
<path d="M1081.6 1607.7L1088.5 1614.6L1081.6 1621.5L1074.7 1614.6Z"/>
<path d="M1084.2 1610.3L1091.1 1617.2L1084.2 1624.1L1077.3 1617.2Z"/>
<path d="M1089.4 1610.3L1096.3 1617.2L1089.4 1624.1L1082.5 1617.2Z"/>
<path d="M1094.6 1610.3L1101.5 1617.2L1094.6 1624.1L1087.7 1617.2Z"/>
<path d="M1099.8 1612.9L1106.7 1619.8L1099.8 1626.7L1092.9 1619.8Z"/>
<path d="M1105.0 1615.5L1111.9 1622.4L1105.0 1629.3L1098.1 1622.4Z"/>
<path d="M1110.2 1618.1L1117.1 1625.0L1110.2 1631.9L1103.3 1625.0Z"/>
<path d="M1112.8 1618.1L1119.7 1625.0L1112.8 1631.9L1105.9 1625.0Z"/>
<path d="M1118.0 1618.1L1124.9 1625.0L1118.0 1631.9L1111.1 1625.0Z"/>
<path d="M1123.2 1620.7L1130.1 1627.6L1123.2 1634.5L1116.3 1627.6Z"/>
<path d="M1128.4 1623.3L1135.3 1630.2L1128.4 1637.1L1121.5 1630.2Z"/>
<path d="M1133.6 1623.3L1140.5 1630.2L1133.6 1637.1L1126.7 1630.2Z"/>
<path d="M1138.8 1623.3L1145.7 1630.2L1138.8 1637.1L1131.9 1630.2Z"/>
<path d="M1144.0 1625.9L1150.9 1632.8L1144.0 1639.7L1137.1 1632.8Z"/>
<path d="M1146.6 1625.9L1153.5 1632.8L1146.6 1639.7L1139.7 1632.8Z"/>
<path d="M1151.8 1628.5L1158.7 1635.4L1151.8 1642.3L1144.9 1635.4Z"/>
<path d="M1157.0 1631.1L1163.9 1638.0L1157.0 1644.9L1150.1 1638.0Z"/>
<path d="M1162.2 1631.1L1169.1 1638.0L1162.2 1644.9L1155.3 1638.0Z"/>
<path d="M1167.4 1628.5L1174.3 1635.4L1167.4 1642.3L1160.5 1635.4Z"/>
<path d="M1172.6 1631.1L1179.5 1638.0L1172.6 1644.9L1165.7 1638.0Z"/>
<path d="M1175.2 1628.5L1182.1 1635.4L1175.2 1642.3L1168.3 1635.4Z"/>
<path d="M1180.4 1633.7L1187.3 1640.6L1180.4 1647.5L1173.5 1640.6Z"/>
<path d="M1185.6 1636.3L1192.5 1643.2L1185.6 1650.1L1178.7 1643.2Z"/>
<path d="M1190.8 1638.9L1197.7 1645.8L1190.8 1652.7L1183.9 1645.8Z"/>
<path d="M1196.0 1644.1L1202.9 1651.0L1196.0 1657.9L1189.1 1651.0Z"/>
<path d="M1201.2 1644.1L1208.1 1651.0L1201.2 1657.9L1194.3 1651.0Z"/>
<path d="M1206.4 1646.7L1213.3 1653.6L1206.4 1660.5L1199.5 1653.6Z"/>
<path d="M1209.0 1646.7L1215.9 1653.6L1209.0 1660.5L1202.1 1653.6Z"/>
<path d="M1214.2 1649.3L1221.1 1656.2L1214.2 1663.1L1207.3 1656.2Z"/>
<path d="M1219.4 1649.3L1226.3 1656.2L1219.4 1663.1L1212.5 1656.2Z"/>
<path d="M1224.6 1646.7L1231.5 1653.6L1224.6 1660.5L1217.7 1653.6Z"/>
<path d="M1229.8 1646.7L1236.7 1653.6L1229.8 1660.5L1222.9 1653.6Z"/>
<path d="M1235.0 1644.1L1241.9 1651.0L1235.0 1657.9L1228.1 1651.0Z"/>
<path d="M1237.6 1646.7L1244.5 1653.6L1237.6 1660.5L1230.7 1653.6Z"/>
<path d="M1242.8 1649.3L1249.7 1656.2L1242.8 1663.1L1235.9 1656.2Z"/>
<path d="M1248.0 1654.5L1254.9 1661.4L1248.0 1668.3L1241.1 1661.4Z"/>
<path d="M1253.2 1657.1L1260.1 1664.0L1253.2 1670.9L1246.3 1664.0Z"/>
<path d="M1258.4 1662.3L1265.3 1669.2L1258.4 1676.1L1251.5 1669.2Z"/>
<path d="M1263.6 1662.3L1270.5 1669.2L1263.6 1676.1L1256.7 1669.2Z"/>
<path d="M1268.8 1662.3L1275.7 1669.2L1268.8 1676.1L1261.9 1669.2Z"/>
<path d="M1271.4 1659.7L1278.3 1666.6L1271.4 1673.5L1264.5 1666.6Z"/>
<path d="M1276.6 1659.7L1283.5 1666.6L1276.6 1673.5L1269.7 1666.6Z"/>
<path d="M1281.8 1659.7L1288.7 1666.6L1281.8 1673.5L1274.9 1666.6Z"/>
<path d="M1287.0 1659.7L1293.9 1666.6L1287.0 1673.5L1280.1 1666.6Z"/>
<path d="M1292.2 1662.3L1299.1 1669.2L1292.2 1676.1L1285.3 1669.2Z"/>
<path d="M1297.4 1659.7L1304.3 1666.6L1297.4 1673.5L1290.5 1666.6Z"/>
<path d="M1300.0 1664.9L1306.9 1671.8L1300.0 1678.7L1293.1 1671.8Z"/>
<path d="M1305.2 1670.1L1312.1 1677.0L1305.2 1683.9L1298.3 1677.0Z"/>
<path d="M1310.4 1672.7L1317.3 1679.6L1310.4 1686.5L1303.5 1679.6Z"/>
<path d="M1315.6 1675.3L1322.5 1682.2L1315.6 1689.1L1308.7 1682.2Z"/>
<path d="M1320.8 1677.9L1327.7 1684.8L1320.8 1691.7L1313.9 1684.8Z"/>
<path d="M1326.0 1680.5L1332.9 1687.4L1326.0 1694.3L1319.1 1687.4Z"/>
<path d="M1331.2 1675.3L1338.1 1682.2L1331.2 1689.1L1324.3 1682.2Z"/>
<path d="M1333.8 1675.3L1340.7 1682.2L1333.8 1689.1L1326.9 1682.2Z"/>
<path d="M1339.0 1680.5L1345.9 1687.4L1339.0 1694.3L1332.1 1687.4Z"/>
<path d="M1344.2 1683.1L1351.1 1690.0L1344.2 1696.9L1337.3 1690.0Z"/>
<path d="M1349.4 1683.1L1356.3 1690.0L1349.4 1696.9L1342.5 1690.0Z"/>
<path d="M1354.6 1680.5L1361.5 1687.4L1354.6 1694.3L1347.7 1687.4Z"/>
<path d="M1359.8 1677.9L1366.7 1684.8L1359.8 1691.7L1352.9 1684.8Z"/>
<path d="M1362.4 1675.3L1369.3 1682.2L1362.4 1689.1L1355.5 1682.2Z"/>
<path d="M1367.6 1675.3L1374.5 1682.2L1367.6 1689.1L1360.7 1682.2Z"/>
<path d="M1372.8 1675.3L1379.7 1682.2L1372.8 1689.1L1365.9 1682.2Z"/>
<path d="M1378.0 1677.9L1384.9 1684.8L1378.0 1691.7L1371.1 1684.8Z"/>
<path d="M1383.2 1680.5L1390.1 1687.4L1383.2 1694.3L1376.3 1687.4Z"/>
<path d="M1388.4 1683.1L1395.3 1690.0L1388.4 1696.9L1381.5 1690.0Z"/>
<path d="M1393.6 1685.7L1400.5 1692.6L1393.6 1699.5L1386.7 1692.6Z"/>
<path d="M1396.2 1688.3L1403.1 1695.2L1396.2 1702.1L1389.3 1695.2Z"/>
<path d="M1401.4 1693.5L1408.3 1700.4L1401.4 1707.3L1394.5 1700.4Z"/>
<path d="M1406.6 1690.9L1413.5 1697.8L1406.6 1704.7L1399.7 1697.8Z"/>
<path d="M1411.8 1690.9L1418.7 1697.8L1411.8 1704.7L1404.9 1697.8Z"/>
<path d="M1417.0 1683.1L1423.9 1690.0L1417.0 1696.9L1410.1 1690.0Z"/>
<path d="M1422.2 1690.9L1429.1 1697.8L1422.2 1704.7L1415.3 1697.8Z"/>
<path d="M1424.8 1693.5L1431.7 1700.4L1424.8 1707.3L1417.9 1700.4Z"/>
<path d="M1430.0 1698.7L1436.9 1705.6L1430.0 1712.5L1423.1 1705.6Z"/>
<path d="M1435.2 1701.3L1442.1 1708.2L1435.2 1715.1L1428.3 1708.2Z"/>
<path d="M1440.4 1698.7L1447.3 1705.6L1440.4 1712.5L1433.5 1705.6Z"/>
<path d="M1445.6 1696.1L1452.5 1703.0L1445.6 1709.9L1438.7 1703.0Z"/>
<path d="M1450.8 1701.3L1457.7 1708.2L1450.8 1715.1L1443.9 1708.2Z"/>
<path d="M1456.0 1706.5L1462.9 1713.4L1456.0 1720.3L1449.1 1713.4Z"/>
<path d="M1458.6 1698.7L1465.5 1705.6L1458.6 1712.5L1451.7 1705.6Z"/>
<path d="M1463.8 1698.7L1470.7 1705.6L1463.8 1712.5L1456.9 1705.6Z"/>
<path d="M1469.0 1698.7L1475.9 1705.6L1469.0 1712.5L1462.1 1705.6Z"/>
<path d="M1474.2 1698.7L1481.1 1705.6L1474.2 1712.5L1467.3 1705.6Z"/>
<path d="M1479.4 1698.7L1486.3 1705.6L1479.4 1712.5L1472.5 1705.6Z"/>
<path d="M1484.6 1701.3L1491.5 1708.2L1484.6 1715.1L1477.7 1708.2Z"/>
<path d="M1487.2 1701.3L1494.1 1708.2L1487.2 1715.1L1480.3 1708.2Z"/>
<path d="M1492.4 1701.3L1499.3 1708.2L1492.4 1715.1L1485.5 1708.2Z"/>
<path d="M1497.6 1698.7L1504.5 1705.6L1497.6 1712.5L1490.7 1705.6Z"/>
<path d="M1502.8 1709.1L1509.7 1716.0L1502.8 1722.9L1495.9 1716.0Z"/>
<path d="M1508.0 1714.3L1514.9 1721.2L1508.0 1728.1L1501.1 1721.2Z"/>
<path d="M1513.2 1716.9L1520.1 1723.8L1513.2 1730.7L1506.3 1723.8Z"/>
<path d="M1518.4 1714.3L1525.3 1721.2L1518.4 1728.1L1511.5 1721.2Z"/>
<path d="M1521.0 1714.3L1527.9 1721.2L1521.0 1728.1L1514.1 1721.2Z"/>
<path d="M1526.2 1706.5L1533.1 1713.4L1526.2 1720.3L1519.3 1713.4Z"/>
<path d="M1531.4 1706.5L1538.3 1713.4L1531.4 1720.3L1524.5 1713.4Z"/>
<path d="M1536.6 1709.1L1543.5 1716.0L1536.6 1722.9L1529.7 1716.0Z"/>
<path d="M1541.8 1703.9L1548.7 1710.8L1541.8 1717.7L1534.9 1710.8Z"/>
<path d="M1547.0 1711.7L1553.9 1718.6L1547.0 1725.5L1540.1 1718.6Z"/>
<path d="M1549.6 1716.9L1556.5 1723.8L1549.6 1730.7L1542.7 1723.8Z"/>
<path d="M1554.8 1719.5L1561.7 1726.4L1554.8 1733.3L1547.9 1726.4Z"/>
<path d="M1560.0 1722.1L1566.9 1729.0L1560.0 1735.9L1553.1 1729.0Z"/>
<path d="M1565.2 1711.7L1572.1 1718.6L1565.2 1725.5L1558.3 1718.6Z"/>
<path d="M1570.4 1709.1L1577.3 1716.0L1570.4 1722.9L1563.5 1716.0Z"/>
<path d="M1575.6 1716.9L1582.5 1723.8L1575.6 1730.7L1568.7 1723.8Z"/>
<path d="M1580.8 1722.1L1587.7 1729.0L1580.8 1735.9L1573.9 1729.0Z"/>
<path d="M1583.4 1722.1L1590.3 1729.0L1583.4 1735.9L1576.5 1729.0Z"/>
<path d="M1588.6 1716.9L1595.5 1723.8L1588.6 1730.7L1581.7 1723.8Z"/>
<path d="M1593.8 1714.3L1600.7 1721.2L1593.8 1728.1L1586.9 1721.2Z"/>
<path d="M1599.0 1716.9L1605.9 1723.8L1599.0 1730.7L1592.1 1723.8Z"/>
<path d="M1604.2 1719.5L1611.1 1726.4L1604.2 1733.3L1597.3 1726.4Z"/>
<path d="M1609.4 1722.1L1616.3 1729.0L1609.4 1735.9L1602.5 1729.0Z"/>
<path d="M1612.0 1719.5L1618.9 1726.4L1612.0 1733.3L1605.1 1726.4Z"/>
<path d="M1617.2 1719.5L1624.1 1726.4L1617.2 1733.3L1610.3 1726.4Z"/>
<path d="M1622.4 1722.1L1629.3 1729.0L1622.4 1735.9L1615.5 1729.0Z"/>
<path d="M1627.6 1729.9L1634.5 1736.8L1627.6 1743.7L1620.7 1736.8Z"/>
<path d="M1632.8 1724.7L1639.7 1731.6L1632.8 1738.5L1625.9 1731.6Z"/>
<path d="M1638.0 1714.3L1644.9 1721.2L1638.0 1728.1L1631.1 1721.2Z"/>
<path d="M1643.2 1714.3L1650.1 1721.2L1643.2 1728.1L1636.3 1721.2Z"/>
<path d="M1645.8 1719.5L1652.7 1726.4L1645.8 1733.3L1638.9 1726.4Z"/>
<path d="M1651.0 1724.7L1657.9 1731.6L1651.0 1738.5L1644.1 1731.6Z"/>
<path d="M1656.2 1727.3L1663.1 1734.2L1656.2 1741.1L1649.3 1734.2Z"/>
<path d="M1661.4 1729.9L1668.3 1736.8L1661.4 1743.7L1654.5 1736.8Z"/>
<path d="M1666.6 1727.3L1673.5 1734.2L1666.6 1741.1L1659.7 1734.2Z"/>
<path d="M1671.8 1724.7L1678.7 1731.6L1671.8 1738.5L1664.9 1731.6Z"/>
<path d="M1674.4 1716.9L1681.3 1723.8L1674.4 1730.7L1667.5 1723.8Z"/>
<path d="M1679.6 1719.5L1686.5 1726.4L1679.6 1733.3L1672.7 1726.4Z"/>
<path d="M1684.8 1724.7L1691.7 1731.6L1684.8 1738.5L1677.9 1731.6Z"/>
<path d="M1690.0 1727.3L1696.9 1734.2L1690.0 1741.1L1683.1 1734.2Z"/>
<path d="M1695.2 1732.5L1702.1 1739.4L1695.2 1746.3L1688.3 1739.4Z"/>
<path d="M1700.4 1729.9L1707.3 1736.8L1700.4 1743.7L1693.5 1736.8Z"/>
<path d="M1705.6 1722.1L1712.5 1729.0L1705.6 1735.9L1698.7 1729.0Z"/>
<path d="M1708.2 1719.5L1715.1 1726.4L1708.2 1733.3L1701.3 1726.4Z"/>
<path d="M1713.4 1719.5L1720.3 1726.4L1713.4 1733.3L1706.5 1726.4Z"/>
<path d="M1718.6 1724.7L1725.5 1731.6L1718.6 1738.5L1711.7 1731.6Z"/>
<path d="M1723.8 1727.3L1730.7 1734.2L1723.8 1741.1L1716.9 1734.2Z"/>
<path d="M1729.0 1732.5L1735.9 1739.4L1729.0 1746.3L1722.1 1739.4Z"/>
<path d="M1734.2 1737.7L1741.1 1744.6L1734.2 1751.5L1727.3 1744.6Z"/>
<path d="M1736.8 1727.3L1743.7 1734.2L1736.8 1741.1L1729.9 1734.2Z"/>
<path d="M1742.0 1719.5L1748.9 1726.4L1742.0 1733.3L1735.1 1726.4Z"/>
<path d="M1747.2 1719.5L1754.1 1726.4L1747.2 1733.3L1740.3 1726.4Z"/>
<path d="M1752.4 1722.1L1759.3 1729.0L1752.4 1735.9L1745.5 1729.0Z"/>
<path d="M1757.6 1722.1L1764.5 1729.0L1757.6 1735.9L1750.7 1729.0Z"/>
<path d="M1762.8 1724.7L1769.7 1731.6L1762.8 1738.5L1755.9 1731.6Z"/>
<path d="M1768.0 1727.3L1774.9 1734.2L1768.0 1741.1L1761.1 1734.2Z"/>
<path d="M1770.6 1727.3L1777.5 1734.2L1770.6 1741.1L1763.7 1734.2Z"/>
<path d="M1775.8 1729.9L1782.7 1736.8L1775.8 1743.7L1768.9 1736.8Z"/>
<path d="M1781.0 1724.7L1787.9 1731.6L1781.0 1738.5L1774.1 1731.6Z"/>
<path d="M1786.2 1729.9L1793.1 1736.8L1786.2 1743.7L1779.3 1736.8Z"/>
<path d="M1791.4 1740.3L1798.3 1747.2L1791.4 1754.1L1784.5 1747.2Z"/>
<path d="M1796.6 1735.1L1803.5 1742.0L1796.6 1748.9L1789.7 1742.0Z"/>
<path d="M1799.2 1727.3L1806.1 1734.2L1799.2 1741.1L1792.3 1734.2Z"/>
<path d="M1804.4 1727.3L1811.3 1734.2L1804.4 1741.1L1797.5 1734.2Z"/>
<path d="M1809.6 1727.3L1816.5 1734.2L1809.6 1741.1L1802.7 1734.2Z"/>
<path d="M1814.8 1732.5L1821.7 1739.4L1814.8 1746.3L1807.9 1739.4Z"/>
<path d="M1820.0 1732.5L1826.9 1739.4L1820.0 1746.3L1813.1 1739.4Z"/>
<path d="M1825.2 1729.9L1832.1 1736.8L1825.2 1743.7L1818.3 1736.8Z"/>
</g>
<g fill="#fff">
<path d="M600.6 1372.7L603.3 1375.4L600.6 1378.1L597.9 1375.4Z"/>
<path d="M611.0 1380.7L613.5 1383.2L611.0 1385.7L608.5 1383.2Z"/>
<path d="M618.8 1388.6L621.2 1391.0L618.8 1393.4L616.4 1391.0Z"/>
<path d="M629.2 1393.5L631.9 1396.2L629.2 1398.9L626.5 1396.2Z"/>
<path d="M639.6 1399.1L641.9 1401.4L639.6 1403.7L637.3 1401.4Z"/>
<path d="M647.4 1404.1L649.9 1406.6L647.4 1409.1L644.9 1406.6Z"/>
<path d="M663.0 1411.8L665.6 1414.4L663.0 1417.0L660.4 1414.4Z"/>
<path d="M673.4 1416.7L676.3 1419.6L673.4 1422.5L670.5 1419.6Z"/>
<path d="M686.4 1424.7L689.1 1427.4L686.4 1430.1L683.7 1427.4Z"/>
<path d="M696.8 1427.2L699.6 1430.0L696.8 1432.8L694.0 1430.0Z"/>
<path d="M707.2 1432.6L709.8 1435.2L707.2 1437.8L704.6 1435.2Z"/>
<path d="M720.2 1437.9L722.7 1440.4L720.2 1442.9L717.7 1440.4Z"/>
<path d="M730.6 1440.5L733.1 1443.0L730.6 1445.5L728.1 1443.0Z"/>
<path d="M743.6 1440.1L746.5 1443.0L743.6 1445.9L740.7 1443.0Z"/>
<path d="M759.2 1450.7L761.9 1453.4L759.2 1456.1L756.5 1453.4Z"/>
<path d="M772.2 1458.7L774.7 1461.2L772.2 1463.7L769.7 1461.2Z"/>
<path d="M782.6 1466.7L784.9 1469.0L782.6 1471.3L780.3 1469.0Z"/>
<path d="M793.0 1476.8L795.6 1479.4L793.0 1482.0L790.4 1479.4Z"/>
<path d="M806.0 1484.5L808.7 1487.2L806.0 1489.9L803.3 1487.2Z"/>
<path d="M816.4 1492.4L819.0 1495.0L816.4 1497.6L813.8 1495.0Z"/>
<path d="M826.8 1497.7L829.3 1500.2L826.8 1502.7L824.3 1500.2Z"/>
<path d="M839.8 1505.3L842.5 1508.0L839.8 1510.7L837.1 1508.0Z"/>
<path d="M850.2 1510.3L853.1 1513.2L850.2 1516.1L847.3 1513.2Z"/>
<path d="M860.6 1515.9L863.1 1518.4L860.6 1520.9L858.1 1518.4Z"/>
<path d="M873.6 1523.9L875.9 1526.2L873.6 1528.5L871.3 1526.2Z"/>
<path d="M884.0 1528.9L886.5 1531.4L884.0 1533.9L881.5 1531.4Z"/>
<path d="M894.4 1534.0L897.0 1536.6L894.4 1539.2L891.8 1536.6Z"/>
<path d="M902.2 1539.1L904.9 1541.8L902.2 1544.5L899.5 1541.8Z"/>
<path d="M907.4 1544.6L909.8 1547.0L907.4 1549.4L905.0 1547.0Z"/>
<path d="M923.0 1552.0L925.8 1554.8L923.0 1557.6L920.2 1554.8Z"/>
<path d="M930.8 1557.3L933.5 1560.0L930.8 1562.7L928.1 1560.0Z"/>
<path d="M941.2 1562.6L943.8 1565.2L941.2 1567.8L938.6 1565.2Z"/>
<path d="M951.6 1568.0L954.0 1570.4L951.6 1572.8L949.2 1570.4Z"/>
<path d="M964.6 1572.7L967.5 1575.6L964.6 1578.5L961.7 1575.6Z"/>
<path d="M975.0 1578.3L977.5 1580.8L975.0 1583.3L972.5 1580.8Z"/>
<path d="M988.0 1583.2L990.8 1586.0L988.0 1588.8L985.2 1586.0Z"/>
<path d="M998.4 1583.5L1000.9 1586.0L998.4 1588.5L995.9 1586.0Z"/>
<path d="M1008.8 1588.8L1011.2 1591.2L1008.8 1593.6L1006.4 1591.2Z"/>
<path d="M1019.2 1591.0L1022.0 1593.8L1019.2 1596.6L1016.4 1593.8Z"/>
<path d="M1032.2 1596.5L1034.7 1599.0L1032.2 1601.5L1029.7 1599.0Z"/>
<path d="M1042.6 1598.7L1045.5 1601.6L1042.6 1604.5L1039.7 1601.6Z"/>
<path d="M1050.4 1601.6L1053.0 1604.2L1050.4 1606.8L1047.8 1604.2Z"/>
<path d="M1060.8 1604.4L1063.2 1606.8L1060.8 1609.2L1058.4 1606.8Z"/>
<path d="M1071.2 1609.6L1073.6 1612.0L1071.2 1614.4L1068.8 1612.0Z"/>
<path d="M1084.2 1614.6L1086.8 1617.2L1084.2 1619.8L1081.6 1617.2Z"/>
<path d="M1094.6 1614.5L1097.3 1617.2L1094.6 1619.9L1091.9 1617.2Z"/>
<path d="M1105.0 1619.5L1107.9 1622.4L1105.0 1625.3L1102.1 1622.4Z"/>
<path d="M1118.0 1622.6L1120.4 1625.0L1118.0 1627.4L1115.6 1625.0Z"/>
<path d="M1133.6 1627.7L1136.1 1630.2L1133.6 1632.7L1131.1 1630.2Z"/>
<path d="M1144.0 1630.4L1146.4 1632.8L1144.0 1635.2L1141.6 1632.8Z"/>
<path d="M1151.8 1632.5L1154.7 1635.4L1151.8 1638.3L1148.9 1635.4Z"/>
<path d="M1162.2 1635.6L1164.6 1638.0L1162.2 1640.4L1159.8 1638.0Z"/>
<path d="M1172.6 1635.6L1175.0 1638.0L1172.6 1640.4L1170.2 1638.0Z"/>
<path d="M1185.6 1640.8L1188.0 1643.2L1185.6 1645.6L1183.2 1643.2Z"/>
<path d="M1196.0 1648.5L1198.5 1651.0L1196.0 1653.5L1193.5 1651.0Z"/>
<path d="M1206.4 1650.8L1209.2 1653.6L1206.4 1656.4L1203.6 1653.6Z"/>
<path d="M1219.4 1653.4L1222.2 1656.2L1219.4 1659.0L1216.6 1656.2Z"/>
<path d="M1229.8 1650.9L1232.5 1653.6L1229.8 1656.3L1227.1 1653.6Z"/>
<path d="M1242.8 1653.3L1245.7 1656.2L1242.8 1659.1L1239.9 1656.2Z"/>
<path d="M1253.2 1661.1L1256.1 1664.0L1253.2 1666.9L1250.3 1664.0Z"/>
<path d="M1263.6 1666.7L1266.1 1669.2L1263.6 1671.7L1261.1 1669.2Z"/>
<path d="M1276.6 1664.2L1279.0 1666.6L1276.6 1669.0L1274.2 1666.6Z"/>
<path d="M1287.0 1663.7L1289.9 1666.6L1287.0 1669.5L1284.1 1666.6Z"/>
<path d="M1297.4 1663.8L1300.2 1666.6L1297.4 1669.4L1294.6 1666.6Z"/>
<path d="M1305.2 1674.7L1307.5 1677.0L1305.2 1679.3L1302.9 1677.0Z"/>
<path d="M1315.6 1679.5L1318.3 1682.2L1315.6 1684.9L1312.9 1682.2Z"/>
<path d="M1326.0 1684.9L1328.5 1687.4L1326.0 1689.9L1323.5 1687.4Z"/>
<path d="M1339.0 1684.9L1341.5 1687.4L1339.0 1689.9L1336.5 1687.4Z"/>
<path d="M1349.4 1687.5L1351.9 1690.0L1349.4 1692.5L1346.9 1690.0Z"/>
<path d="M1359.8 1682.4L1362.2 1684.8L1359.8 1687.2L1357.4 1684.8Z"/>
<path d="M1372.8 1679.9L1375.1 1682.2L1372.8 1684.5L1370.5 1682.2Z"/>
<path d="M1388.4 1687.5L1390.9 1690.0L1388.4 1692.5L1385.9 1690.0Z"/>
<path d="M1396.2 1692.7L1398.7 1695.2L1396.2 1697.7L1393.7 1695.2Z"/>
<path d="M1406.6 1694.9L1409.5 1697.8L1406.6 1700.7L1403.7 1697.8Z"/>
<path d="M1417.0 1687.6L1419.4 1690.0L1417.0 1692.4L1414.6 1690.0Z"/>
<path d="M1424.8 1697.5L1427.7 1700.4L1424.8 1703.3L1421.9 1700.4Z"/>
<path d="M1435.2 1705.8L1437.6 1708.2L1435.2 1710.6L1432.8 1708.2Z"/>
<path d="M1450.8 1705.7L1453.3 1708.2L1450.8 1710.7L1448.3 1708.2Z"/>
<path d="M1463.8 1702.8L1466.6 1705.6L1463.8 1708.4L1461.0 1705.6Z"/>
<path d="M1479.4 1702.8L1482.2 1705.6L1479.4 1708.4L1476.6 1705.6Z"/>
<path d="M1487.2 1705.6L1489.8 1708.2L1487.2 1710.8L1484.6 1708.2Z"/>
<path d="M1497.6 1703.3L1499.9 1705.6L1497.6 1707.9L1495.3 1705.6Z"/>
<path d="M1502.8 1713.4L1505.4 1716.0L1502.8 1718.6L1500.2 1716.0Z"/>
<path d="M1513.2 1721.3L1515.7 1723.8L1513.2 1726.3L1510.7 1723.8Z"/>
<path d="M1526.2 1710.5L1529.1 1713.4L1526.2 1716.3L1523.3 1713.4Z"/>
<path d="M1536.6 1713.6L1539.0 1716.0L1536.6 1718.4L1534.2 1716.0Z"/>
<path d="M1541.8 1708.3L1544.3 1710.8L1541.8 1713.3L1539.3 1710.8Z"/>
<path d="M1547.0 1715.8L1549.8 1718.6L1547.0 1721.4L1544.2 1718.6Z"/>
<path d="M1560.0 1726.7L1562.3 1729.0L1560.0 1731.3L1557.7 1729.0Z"/>
<path d="M1570.4 1713.4L1573.0 1716.0L1570.4 1718.6L1567.8 1716.0Z"/>
<path d="M1580.8 1726.2L1583.6 1729.0L1580.8 1731.8L1578.0 1729.0Z"/>
<path d="M1593.8 1718.4L1596.6 1721.2L1593.8 1724.0L1591.0 1721.2Z"/>
<path d="M1604.2 1724.1L1606.5 1726.4L1604.2 1728.7L1601.9 1726.4Z"/>
<path d="M1612.0 1724.1L1614.3 1726.4L1612.0 1728.7L1609.7 1726.4Z"/>
<path d="M1622.4 1726.6L1624.8 1729.0L1622.4 1731.4L1620.0 1729.0Z"/>
<path d="M1632.8 1728.7L1635.7 1731.6L1632.8 1734.5L1629.9 1731.6Z"/>
<path d="M1638.0 1718.7L1640.5 1721.2L1638.0 1723.7L1635.5 1721.2Z"/>
<path d="M1651.0 1728.8L1653.8 1731.6L1651.0 1734.4L1648.2 1731.6Z"/>
<path d="M1661.4 1734.0L1664.2 1736.8L1661.4 1739.6L1658.6 1736.8Z"/>
<path d="M1671.8 1729.1L1674.3 1731.6L1671.8 1734.1L1669.3 1731.6Z"/>
<path d="M1684.8 1729.1L1687.3 1731.6L1684.8 1734.1L1682.3 1731.6Z"/>
<path d="M1695.2 1736.5L1698.1 1739.4L1695.2 1742.3L1692.3 1739.4Z"/>
<path d="M1705.6 1726.3L1708.3 1729.0L1705.6 1731.7L1702.9 1729.0Z"/>
<path d="M1713.4 1723.9L1715.9 1726.4L1713.4 1728.9L1710.9 1726.4Z"/>
<path d="M1723.8 1731.5L1726.5 1734.2L1723.8 1736.9L1721.1 1734.2Z"/>
<path d="M1734.2 1742.1L1736.7 1744.6L1734.2 1747.1L1731.7 1744.6Z"/>
<path d="M1742.0 1723.9L1744.5 1726.4L1742.0 1728.9L1739.5 1726.4Z"/>
<path d="M1757.6 1726.7L1759.9 1729.0L1757.6 1731.3L1755.3 1729.0Z"/>
<path d="M1768.0 1731.4L1770.8 1734.2L1768.0 1737.0L1765.2 1734.2Z"/>
<path d="M1775.8 1733.9L1778.7 1736.8L1775.8 1739.7L1772.9 1736.8Z"/>
<path d="M1786.2 1734.1L1788.9 1736.8L1786.2 1739.5L1783.5 1736.8Z"/>
<path d="M1791.4 1744.3L1794.3 1747.2L1791.4 1750.1L1788.5 1747.2Z"/>
<path d="M1799.2 1731.9L1801.5 1734.2L1799.2 1736.5L1796.9 1734.2Z"/>
<path d="M1809.6 1731.7L1812.1 1734.2L1809.6 1736.7L1807.1 1734.2Z"/>
<path d="M1820.0 1736.8L1822.6 1739.4L1820.0 1742.0L1817.4 1739.4Z"/>
</g>
</g>
<g stroke="#000" fill="none" stroke-linecap="butt">
<line x1="355.0" y1="85.0" x2="355.0" y2="2060.5" stroke-width="9.0"/>
<line x1="315.0" y1="2056.0" x2="1821.5" y2="2056.0" stroke-width="9.0"/>
<line x1="315" y1="89.0" x2="355.0" y2="89.0" stroke-width="7.5"/>
<line x1="315" y1="307.6" x2="355.0" y2="307.6" stroke-width="7.5"/>
<line x1="315" y1="526.1" x2="355.0" y2="526.1" stroke-width="7.5"/>
<line x1="315" y1="744.7" x2="355.0" y2="744.7" stroke-width="7.5"/>
<line x1="315" y1="963.2" x2="355.0" y2="963.2" stroke-width="7.5"/>
<line x1="315" y1="1181.8" x2="355.0" y2="1181.8" stroke-width="7.5"/>
<line x1="315" y1="1400.3" x2="355.0" y2="1400.3" stroke-width="7.5"/>
<line x1="315" y1="1618.9" x2="355.0" y2="1618.9" stroke-width="7.5"/>
<line x1="315" y1="1837.4" x2="355.0" y2="1837.4" stroke-width="7.5"/>
<line x1="334.5" y1="241.8" x2="355.0" y2="241.8" stroke-width="5.5"/>
<line x1="334.5" y1="203.3" x2="355.0" y2="203.3" stroke-width="5.5"/>
<line x1="334.5" y1="176.0" x2="355.0" y2="176.0" stroke-width="5.5"/>
<line x1="334.5" y1="154.8" x2="355.0" y2="154.8" stroke-width="5.5"/>
<line x1="334.5" y1="137.5" x2="355.0" y2="137.5" stroke-width="5.5"/>
<line x1="334.5" y1="122.9" x2="355.0" y2="122.9" stroke-width="5.5"/>
<line x1="334.5" y1="110.2" x2="355.0" y2="110.2" stroke-width="5.5"/>
<line x1="334.5" y1="99.0" x2="355.0" y2="99.0" stroke-width="5.5"/>
<line x1="334.5" y1="460.3" x2="355.0" y2="460.3" stroke-width="5.5"/>
<line x1="334.5" y1="421.8" x2="355.0" y2="421.8" stroke-width="5.5"/>
<line x1="334.5" y1="394.5" x2="355.0" y2="394.5" stroke-width="5.5"/>
<line x1="334.5" y1="373.3" x2="355.0" y2="373.3" stroke-width="5.5"/>
<line x1="334.5" y1="356.0" x2="355.0" y2="356.0" stroke-width="5.5"/>
<line x1="334.5" y1="341.4" x2="355.0" y2="341.4" stroke-width="5.5"/>
<line x1="334.5" y1="328.7" x2="355.0" y2="328.7" stroke-width="5.5"/>
<line x1="334.5" y1="317.6" x2="355.0" y2="317.6" stroke-width="5.5"/>
<line x1="334.5" y1="678.9" x2="355.0" y2="678.9" stroke-width="5.5"/>
<line x1="334.5" y1="640.4" x2="355.0" y2="640.4" stroke-width="5.5"/>
<line x1="334.5" y1="613.1" x2="355.0" y2="613.1" stroke-width="5.5"/>
<line x1="334.5" y1="591.9" x2="355.0" y2="591.9" stroke-width="5.5"/>
<line x1="334.5" y1="574.6" x2="355.0" y2="574.6" stroke-width="5.5"/>
<line x1="334.5" y1="560.0" x2="355.0" y2="560.0" stroke-width="5.5"/>
<line x1="334.5" y1="547.3" x2="355.0" y2="547.3" stroke-width="5.5"/>
<line x1="334.5" y1="536.1" x2="355.0" y2="536.1" stroke-width="5.5"/>
<line x1="334.5" y1="897.4" x2="355.0" y2="897.4" stroke-width="5.5"/>
<line x1="334.5" y1="858.9" x2="355.0" y2="858.9" stroke-width="5.5"/>
<line x1="334.5" y1="831.6" x2="355.0" y2="831.6" stroke-width="5.5"/>
<line x1="334.5" y1="810.5" x2="355.0" y2="810.5" stroke-width="5.5"/>
<line x1="334.5" y1="793.2" x2="355.0" y2="793.2" stroke-width="5.5"/>
<line x1="334.5" y1="778.5" x2="355.0" y2="778.5" stroke-width="5.5"/>
<line x1="334.5" y1="765.8" x2="355.0" y2="765.8" stroke-width="5.5"/>
<line x1="334.5" y1="754.7" x2="355.0" y2="754.7" stroke-width="5.5"/>
<line x1="334.5" y1="1116.0" x2="355.0" y2="1116.0" stroke-width="5.5"/>
<line x1="334.5" y1="1077.5" x2="355.0" y2="1077.5" stroke-width="5.5"/>
<line x1="334.5" y1="1050.2" x2="355.0" y2="1050.2" stroke-width="5.5"/>
<line x1="334.5" y1="1029.0" x2="355.0" y2="1029.0" stroke-width="5.5"/>
<line x1="334.5" y1="1011.7" x2="355.0" y2="1011.7" stroke-width="5.5"/>
<line x1="334.5" y1="997.1" x2="355.0" y2="997.1" stroke-width="5.5"/>
<line x1="334.5" y1="984.4" x2="355.0" y2="984.4" stroke-width="5.5"/>
<line x1="334.5" y1="973.2" x2="355.0" y2="973.2" stroke-width="5.5"/>
<line x1="334.5" y1="1334.5" x2="355.0" y2="1334.5" stroke-width="5.5"/>
<line x1="334.5" y1="1296.1" x2="355.0" y2="1296.1" stroke-width="5.5"/>
<line x1="334.5" y1="1268.7" x2="355.0" y2="1268.7" stroke-width="5.5"/>
<line x1="334.5" y1="1247.6" x2="355.0" y2="1247.6" stroke-width="5.5"/>
<line x1="334.5" y1="1230.3" x2="355.0" y2="1230.3" stroke-width="5.5"/>
<line x1="334.5" y1="1215.6" x2="355.0" y2="1215.6" stroke-width="5.5"/>
<line x1="334.5" y1="1203.0" x2="355.0" y2="1203.0" stroke-width="5.5"/>
<line x1="334.5" y1="1191.8" x2="355.0" y2="1191.8" stroke-width="5.5"/>
<line x1="334.5" y1="1553.1" x2="355.0" y2="1553.1" stroke-width="5.5"/>
<line x1="334.5" y1="1514.6" x2="355.0" y2="1514.6" stroke-width="5.5"/>
<line x1="334.5" y1="1487.3" x2="355.0" y2="1487.3" stroke-width="5.5"/>
<line x1="334.5" y1="1466.1" x2="355.0" y2="1466.1" stroke-width="5.5"/>
<line x1="334.5" y1="1448.8" x2="355.0" y2="1448.8" stroke-width="5.5"/>
<line x1="334.5" y1="1434.2" x2="355.0" y2="1434.2" stroke-width="5.5"/>
<line x1="334.5" y1="1421.5" x2="355.0" y2="1421.5" stroke-width="5.5"/>
<line x1="334.5" y1="1410.3" x2="355.0" y2="1410.3" stroke-width="5.5"/>
<line x1="334.5" y1="1771.7" x2="355.0" y2="1771.7" stroke-width="5.5"/>
<line x1="334.5" y1="1733.2" x2="355.0" y2="1733.2" stroke-width="5.5"/>
<line x1="334.5" y1="1705.9" x2="355.0" y2="1705.9" stroke-width="5.5"/>
<line x1="334.5" y1="1684.7" x2="355.0" y2="1684.7" stroke-width="5.5"/>
<line x1="334.5" y1="1667.4" x2="355.0" y2="1667.4" stroke-width="5.5"/>
<line x1="334.5" y1="1652.7" x2="355.0" y2="1652.7" stroke-width="5.5"/>
<line x1="334.5" y1="1640.1" x2="355.0" y2="1640.1" stroke-width="5.5"/>
<line x1="334.5" y1="1628.9" x2="355.0" y2="1628.9" stroke-width="5.5"/>
<line x1="334.5" y1="1990.2" x2="355.0" y2="1990.2" stroke-width="5.5"/>
<line x1="334.5" y1="1951.7" x2="355.0" y2="1951.7" stroke-width="5.5"/>
<line x1="334.5" y1="1924.4" x2="355.0" y2="1924.4" stroke-width="5.5"/>
<line x1="334.5" y1="1903.2" x2="355.0" y2="1903.2" stroke-width="5.5"/>
<line x1="334.5" y1="1885.9" x2="355.0" y2="1885.9" stroke-width="5.5"/>
<line x1="334.5" y1="1871.3" x2="355.0" y2="1871.3" stroke-width="5.5"/>
<line x1="334.5" y1="1858.6" x2="355.0" y2="1858.6" stroke-width="5.5"/>
<line x1="334.5" y1="1847.4" x2="355.0" y2="1847.4" stroke-width="5.5"/>
<line x1="355.0" y1="2056.0" x2="355.0" y2="2079.5" stroke-width="8.5"/>
<line x1="454.6" y1="2056.0" x2="454.6" y2="2098.5" stroke-width="8.8"/>
<line x1="551.7" y1="2056.0" x2="551.7" y2="2079.5" stroke-width="8.5"/>
<line x1="648.8" y1="2056.0" x2="648.8" y2="2098.5" stroke-width="8.8"/>
<line x1="745.9" y1="2056.0" x2="745.9" y2="2079.5" stroke-width="8.5"/>
<line x1="843.0" y1="2056.0" x2="843.0" y2="2098.5" stroke-width="8.8"/>
<line x1="940.1" y1="2056.0" x2="940.1" y2="2079.5" stroke-width="8.5"/>
<line x1="1037.2" y1="2056.0" x2="1037.2" y2="2098.5" stroke-width="8.8"/>
<line x1="1134.3" y1="2056.0" x2="1134.3" y2="2079.5" stroke-width="8.5"/>
<line x1="1231.4" y1="2056.0" x2="1231.4" y2="2098.5" stroke-width="8.8"/>
<line x1="1328.5" y1="2056.0" x2="1328.5" y2="2079.5" stroke-width="8.5"/>
<line x1="1425.6" y1="2056.0" x2="1425.6" y2="2098.5" stroke-width="8.8"/>
<line x1="1522.7" y1="2056.0" x2="1522.7" y2="2079.5" stroke-width="8.5"/>
<line x1="1619.8" y1="2056.0" x2="1619.8" y2="2098.5" stroke-width="8.8"/>
<line x1="1716.9" y1="2056.0" x2="1716.9" y2="2079.5" stroke-width="8.5"/>
<line x1="1817.0" y1="2056.0" x2="1817.0" y2="2098.5" stroke-width="8.8"/>
</g>
<g font-family="'Liberation Serif','Times New Roman',Times,serif" fill="#000" stroke="#000" stroke-width="1.0" filter="url(#lcd)">
<text x="286" y="118.0" font-size="82" text-anchor="end">10<tspan font-size="41" dy="-44" dx="-2.5">6</tspan></text>
<text x="286" y="336.6" font-size="82" text-anchor="end">10<tspan font-size="41" dy="-44" dx="-2.5">5</tspan></text>
<text x="286" y="555.1" font-size="82" text-anchor="end">10<tspan font-size="41" dy="-44" dx="-2.5">4</tspan></text>
<text x="286" y="773.7" font-size="82" text-anchor="end">10<tspan font-size="41" dy="-44" dx="-2.5">3</tspan></text>
<text x="286" y="992.2" font-size="82" text-anchor="end">10<tspan font-size="41" dy="-44" dx="-2.5">2</tspan></text>
<text x="286" y="1210.8" font-size="82" text-anchor="end">10<tspan font-size="41" dy="-44" dx="-2.5">1</tspan></text>
<text x="286" y="1429.3" font-size="82" text-anchor="end">10<tspan font-size="41" dy="-44" dx="-2.5">0</tspan></text>
<text x="286" y="1647.9" font-size="82" text-anchor="end">10<tspan font-size="41" dy="-44" dx="-2.5">-1</tspan></text>
<text x="286" y="1866.4" font-size="82" text-anchor="end">10<tspan font-size="41" dy="-44" dx="-2.5">-2</tspan></text>
<text x="286" y="2085.0" font-size="82" text-anchor="end">10<tspan font-size="41" dy="-44" dx="-2.5">-3</tspan></text>
</g>
<g font-family="'Liberation Serif','Times New Roman',Times,serif" fill="#000" stroke="#000" stroke-width="1.0" filter="url(#lcd)">
<text x="454.6" y="2180.5" font-size="82" text-anchor="middle">0.2</text>
<text x="648.8" y="2180.5" font-size="82" text-anchor="middle">0.4</text>
<text x="843.0" y="2180.5" font-size="82" text-anchor="middle">0.6</text>
<text x="1037.2" y="2180.5" font-size="82" text-anchor="middle">0.8</text>
<text x="1234.9" y="2180.5" font-size="82" text-anchor="middle">1.0</text>
<text x="1429.1" y="2180.5" font-size="82" text-anchor="middle">1.2</text>
<text x="1623.3" y="2180.5" font-size="82" text-anchor="middle">1.4</text>
<text x="1820.5" y="2180.5" font-size="82" text-anchor="middle">1.6</text>
</g>
<g font-family="'Liberation Serif','Times New Roman',Times,serif" font-weight="bold" fill="#000" filter="url(#lcd)">
<text transform="translate(96,1136) rotate(-90) scale(0.95,1)" font-size="102" text-anchor="middle">I(q) (a.u.)</text>
</g>
<g font-family="'Liberation Serif','Times New Roman',Times,serif" font-weight="bold" fill="#000" filter="url(#lcd)">
<text x="918" y="2356" font-size="94">q <tspan x="1002" y="2342" font-size="110" font-weight="normal" textLength="43.9" lengthAdjust="spacingAndGlyphs">(</tspan><tspan x="1036" y="2355" font-size="90">nm</tspan><tspan x="1168" y="2304" font-size="50">-</tspan><tspan x="1189" y="2301" font-size="50">1</tspan><tspan x="1219" y="2342" font-size="110" font-weight="normal" textLength="43.9" lengthAdjust="spacingAndGlyphs">)</tspan></text>
</g>
<line x1="450.7" y1="162.0" x2="450.7" y2="269.3" stroke="#000" stroke-width="3.2"/>
<path d="M433.2 267.3L468.2 267.3L450.7 302.3Z" fill="#000"/>
<text x="449.0" y="145.8" font-family="'Liberation Serif','Times New Roman',Times,serif" font-weight="bold" font-size="84" text-anchor="middle">1</text>
<line x1="629.3" y1="586.3" x2="629.3" y2="693.4" stroke="#000" stroke-width="3.2"/>
<path d="M611.8 691.4L646.8 691.4L629.3 726.5Z" fill="#000"/>
<text x="626.0" y="567.6" font-family="'Liberation Serif','Times New Roman',Times,serif" font-weight="bold" font-size="84" text-anchor="middle">2</text>
<line x1="825.0" y1="674.5" x2="825.0" y2="781.6" stroke="#000" stroke-width="3.2"/>
<path d="M807.5 779.6L842.5 779.6L825.0 814.7Z" fill="#000"/>
<text x="834.0" y="655.8" font-family="'Liberation Serif','Times New Roman',Times,serif" font-weight="bold" font-size="84" text-anchor="middle">3</text>
<line x1="406.5" y1="769.5" x2="406.5" y2="876.6" stroke="#000" stroke-width="3.2"/>
<path d="M389.0 874.6L424.0 874.6L406.5 910.6Z" fill="#000"/>
<text x="414.5" y="754.6" font-family="'Liberation Serif','Times New Roman',Times,serif" font-weight="bold" font-size="84" text-anchor="middle">1</text>
<line x1="522.1" y1="1099.0" x2="522.1" y2="1204.8" stroke="#000" stroke-width="3.2"/>
<path d="M504.6 1202.8L539.6 1202.8L522.1 1239.0Z" fill="#000"/>
<text x="520.0" y="1084.1" font-family="'Liberation Serif','Times New Roman',Times,serif" font-weight="bold" font-size="84" text-anchor="middle">2</text>
<line x1="756.4" y1="1285.7" x2="756.4" y2="1392.9" stroke="#000" stroke-width="3.2"/>
<path d="M738.9 1390.9L773.9 1390.9L756.4 1425.9Z" fill="#000"/>
<text x="758.7" y="1272.9" font-family="'Liberation Serif','Times New Roman',Times,serif" font-weight="bold" font-size="84" text-anchor="middle">3</text>
<g font-family="'Liberation Serif','Times New Roman',Times,serif" fill="#000" stroke="#000" stroke-width="0.9">
<text transform="translate(1535.5,1176.8) scale(1.045,1)" font-size="97">190<tspan font-size="58" dy="-32">o</tspan><tspan dy="32">C</tspan></text>
<text x="564" y="1908.8" font-size="99.5">Non-isothermal Crystallization</text>
</g>
</svg>
</body></html>
